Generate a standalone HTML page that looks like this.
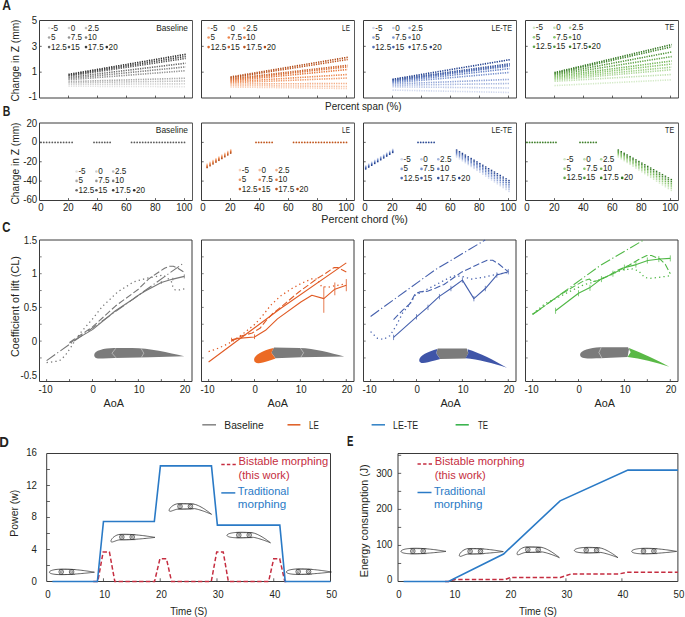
<!DOCTYPE html><html><head><meta charset="utf-8"><style>html,body{margin:0;padding:0;background:#fff;}svg{display:block;}text{font-family:"Liberation Sans", sans-serif;}</style></head><body>
<svg width="685" height="617" viewBox="0 0 685 617">
<rect width="685" height="617" fill="#fff"/>
<text x="2.20" y="9.70" font-size="14.6" text-anchor="start" fill="#231f20" font-weight="bold" textLength="8.7" lengthAdjust="spacingAndGlyphs" >A</text>
<text x="2.80" y="115.80" font-size="14.4" text-anchor="start" fill="#231f20" font-weight="bold" textLength="7.6" lengthAdjust="spacingAndGlyphs" >B</text>
<text x="2.20" y="232.20" font-size="14.4" text-anchor="start" fill="#231f20" font-weight="bold" textLength="8.2" lengthAdjust="spacingAndGlyphs" >C</text>
<text x="-0.70" y="446.50" font-size="14.6" text-anchor="start" fill="#231f20" font-weight="bold" textLength="9.6" lengthAdjust="spacingAndGlyphs" >D</text>
<text x="346.90" y="445.90" font-size="14.2" text-anchor="start" fill="#231f20" font-weight="bold" textLength="6.4" lengthAdjust="spacingAndGlyphs" >E</text>
<line x1="39.50" y1="20.50" x2="192.50" y2="20.50" stroke="#3a3a3a" stroke-width="1" />
<line x1="192.50" y1="20.50" x2="192.50" y2="98.00" stroke="#5a5a5a" stroke-width="1" />
<line x1="39.50" y1="20.50" x2="39.50" y2="98.00" stroke="#3a3a3a" stroke-width="1" />
<line x1="39.50" y1="98.00" x2="192.50" y2="98.00" stroke="#3a3a3a" stroke-width="1" />
<line x1="68.50" y1="98.00" x2="68.50" y2="95.60" stroke="#3a3a3a" stroke-width="0.8" />
<line x1="97.50" y1="98.00" x2="97.50" y2="95.60" stroke="#3a3a3a" stroke-width="0.8" />
<line x1="126.50" y1="98.00" x2="126.50" y2="95.60" stroke="#3a3a3a" stroke-width="0.8" />
<line x1="155.50" y1="98.00" x2="155.50" y2="95.60" stroke="#3a3a3a" stroke-width="0.8" />
<line x1="184.50" y1="98.00" x2="184.50" y2="95.60" stroke="#3a3a3a" stroke-width="0.8" />
<line x1="39.50" y1="46.33" x2="41.70" y2="46.33" stroke="#3a3a3a" stroke-width="0.8" />
<line x1="39.50" y1="72.17" x2="41.70" y2="72.17" stroke="#3a3a3a" stroke-width="0.8" />
<line x1="201.50" y1="20.50" x2="354.50" y2="20.50" stroke="#3a3a3a" stroke-width="1" />
<line x1="354.50" y1="20.50" x2="354.50" y2="98.00" stroke="#5a5a5a" stroke-width="1" />
<line x1="201.50" y1="20.50" x2="201.50" y2="98.00" stroke="#3a3a3a" stroke-width="1" />
<line x1="201.50" y1="98.00" x2="354.50" y2="98.00" stroke="#3a3a3a" stroke-width="1" />
<line x1="230.50" y1="98.00" x2="230.50" y2="95.60" stroke="#3a3a3a" stroke-width="0.8" />
<line x1="259.50" y1="98.00" x2="259.50" y2="95.60" stroke="#3a3a3a" stroke-width="0.8" />
<line x1="288.50" y1="98.00" x2="288.50" y2="95.60" stroke="#3a3a3a" stroke-width="0.8" />
<line x1="317.50" y1="98.00" x2="317.50" y2="95.60" stroke="#3a3a3a" stroke-width="0.8" />
<line x1="346.50" y1="98.00" x2="346.50" y2="95.60" stroke="#3a3a3a" stroke-width="0.8" />
<line x1="201.50" y1="46.33" x2="203.70" y2="46.33" stroke="#3a3a3a" stroke-width="0.8" />
<line x1="201.50" y1="72.17" x2="203.70" y2="72.17" stroke="#3a3a3a" stroke-width="0.8" />
<line x1="363.50" y1="20.50" x2="516.50" y2="20.50" stroke="#3a3a3a" stroke-width="1" />
<line x1="516.50" y1="20.50" x2="516.50" y2="98.00" stroke="#5a5a5a" stroke-width="1" />
<line x1="363.50" y1="20.50" x2="363.50" y2="98.00" stroke="#3a3a3a" stroke-width="1" />
<line x1="363.50" y1="98.00" x2="516.50" y2="98.00" stroke="#3a3a3a" stroke-width="1" />
<line x1="392.50" y1="98.00" x2="392.50" y2="95.60" stroke="#3a3a3a" stroke-width="0.8" />
<line x1="421.50" y1="98.00" x2="421.50" y2="95.60" stroke="#3a3a3a" stroke-width="0.8" />
<line x1="450.50" y1="98.00" x2="450.50" y2="95.60" stroke="#3a3a3a" stroke-width="0.8" />
<line x1="479.50" y1="98.00" x2="479.50" y2="95.60" stroke="#3a3a3a" stroke-width="0.8" />
<line x1="508.50" y1="98.00" x2="508.50" y2="95.60" stroke="#3a3a3a" stroke-width="0.8" />
<line x1="363.50" y1="46.33" x2="365.70" y2="46.33" stroke="#3a3a3a" stroke-width="0.8" />
<line x1="363.50" y1="72.17" x2="365.70" y2="72.17" stroke="#3a3a3a" stroke-width="0.8" />
<line x1="525.50" y1="20.50" x2="678.50" y2="20.50" stroke="#3a3a3a" stroke-width="1" />
<line x1="678.50" y1="20.50" x2="678.50" y2="98.00" stroke="#5a5a5a" stroke-width="1" />
<line x1="525.50" y1="20.50" x2="525.50" y2="98.00" stroke="#3a3a3a" stroke-width="1" />
<line x1="525.50" y1="98.00" x2="678.50" y2="98.00" stroke="#3a3a3a" stroke-width="1" />
<line x1="554.50" y1="98.00" x2="554.50" y2="95.60" stroke="#3a3a3a" stroke-width="0.8" />
<line x1="583.50" y1="98.00" x2="583.50" y2="95.60" stroke="#3a3a3a" stroke-width="0.8" />
<line x1="612.50" y1="98.00" x2="612.50" y2="95.60" stroke="#3a3a3a" stroke-width="0.8" />
<line x1="641.50" y1="98.00" x2="641.50" y2="95.60" stroke="#3a3a3a" stroke-width="0.8" />
<line x1="670.50" y1="98.00" x2="670.50" y2="95.60" stroke="#3a3a3a" stroke-width="0.8" />
<line x1="525.50" y1="46.33" x2="527.70" y2="46.33" stroke="#3a3a3a" stroke-width="0.8" />
<line x1="525.50" y1="72.17" x2="527.70" y2="72.17" stroke="#3a3a3a" stroke-width="0.8" />
<text x="188.00" y="31.00" font-size="8.6" text-anchor="end" fill="#231f20" textLength="31.8" lengthAdjust="spacingAndGlyphs" >Baseline</text>
<text x="349.90" y="31.00" font-size="8.6" text-anchor="end" fill="#231f20" textLength="7.8" lengthAdjust="spacingAndGlyphs" >LE</text>
<text x="512.00" y="30.60" font-size="8.6" text-anchor="end" fill="#231f20" textLength="20.5" lengthAdjust="spacingAndGlyphs" >LE-TE</text>
<text x="674.20" y="30.40" font-size="8.6" text-anchor="end" fill="#231f20" textLength="9.1" lengthAdjust="spacingAndGlyphs" >TE</text>
<text x="0.00" y="0.00" font-size="11.0" text-anchor="end" fill="#231f20" transform="translate(37.20,24.00) scale(0.88,1)">5</text>
<text x="0.00" y="0.00" font-size="11.0" text-anchor="end" fill="#231f20" transform="translate(37.20,49.53) scale(0.88,1)">3</text>
<text x="0.00" y="0.00" font-size="11.0" text-anchor="end" fill="#231f20" transform="translate(37.20,74.97) scale(0.88,1)">1</text>
<text x="0.00" y="0.00" font-size="11.0" text-anchor="end" fill="#231f20" transform="translate(37.20,99.60) scale(0.88,1)">-1</text>
<text x="0.00" y="0.00" font-size="10" text-anchor="middle" fill="#231f20" textLength="82" lengthAdjust="spacingAndGlyphs" transform="translate(18.6,60.5) rotate(-90)">Change in Z (mm)</text>
<text x="363.30" y="110.10" font-size="10" text-anchor="middle" fill="#231f20" textLength="76.5" lengthAdjust="spacingAndGlyphs" >Percent span (%)</text>
<circle cx="49.10" cy="28.00" r="1.3" fill="#e2e2e2"/>
<text x="0.00" y="0.00" font-size="8.6" text-anchor="start" fill="#231f20" transform="translate(50.90,30.50) scale(0.95,1)">-5</text>
<circle cx="69.00" cy="28.00" r="1.3" fill="#cecece"/>
<text x="0.00" y="0.00" font-size="8.6" text-anchor="start" fill="#231f20" transform="translate(70.80,30.50) scale(0.95,1)">0</text>
<circle cx="86.00" cy="28.00" r="1.3" fill="#bababa"/>
<text x="0.00" y="0.00" font-size="8.6" text-anchor="start" fill="#231f20" transform="translate(87.80,30.50) scale(0.95,1)">2.5</text>
<circle cx="49.10" cy="37.50" r="1.3" fill="#a6a6a6"/>
<text x="0.00" y="0.00" font-size="8.6" text-anchor="start" fill="#231f20" transform="translate(50.90,40.00) scale(0.95,1)">5</text>
<circle cx="69.00" cy="37.50" r="1.3" fill="#929292"/>
<text x="0.00" y="0.00" font-size="8.6" text-anchor="start" fill="#231f20" transform="translate(70.80,40.00) scale(0.95,1)">7.5</text>
<circle cx="86.00" cy="37.50" r="1.3" fill="#7e7e7e"/>
<text x="0.00" y="0.00" font-size="8.6" text-anchor="start" fill="#231f20" transform="translate(87.80,40.00) scale(0.95,1)">10</text>
<circle cx="49.10" cy="47.10" r="1.3" fill="#696969"/>
<text x="0.00" y="0.00" font-size="8.6" text-anchor="start" fill="#231f20" transform="translate(50.90,49.60) scale(0.95,1)">12.5</text>
<circle cx="69.00" cy="47.10" r="1.3" fill="#545454"/>
<text x="0.00" y="0.00" font-size="8.6" text-anchor="start" fill="#231f20" transform="translate(70.80,49.60) scale(0.95,1)">15</text>
<circle cx="86.00" cy="47.10" r="1.3" fill="#3f3f3f"/>
<text x="0.00" y="0.00" font-size="8.6" text-anchor="start" fill="#231f20" transform="translate(87.80,49.60) scale(0.95,1)">17.5</text>
<circle cx="106.80" cy="47.10" r="1.3" fill="#2a2a2a"/>
<text x="0.00" y="0.00" font-size="8.6" text-anchor="start" fill="#231f20" transform="translate(108.60,49.60) scale(0.95,1)">20</text>
<circle cx="208.60" cy="28.00" r="1.3" fill="#fad0b8"/>
<text x="0.00" y="0.00" font-size="8.6" text-anchor="start" fill="#231f20" transform="translate(210.40,30.50) scale(0.95,1)">-5</text>
<circle cx="228.80" cy="28.00" r="1.3" fill="#f6bd9c"/>
<text x="0.00" y="0.00" font-size="8.6" text-anchor="start" fill="#231f20" transform="translate(230.60,30.50) scale(0.95,1)">0</text>
<circle cx="244.40" cy="28.00" r="1.3" fill="#f3aa81"/>
<text x="0.00" y="0.00" font-size="8.6" text-anchor="start" fill="#231f20" transform="translate(246.20,30.50) scale(0.95,1)">2.5</text>
<circle cx="208.60" cy="37.50" r="1.3" fill="#ef9765"/>
<text x="0.00" y="0.00" font-size="8.6" text-anchor="start" fill="#231f20" transform="translate(210.40,40.00) scale(0.95,1)">5</text>
<circle cx="228.80" cy="37.50" r="1.3" fill="#ec844a"/>
<text x="0.00" y="0.00" font-size="8.6" text-anchor="start" fill="#231f20" transform="translate(230.60,40.00) scale(0.95,1)">7.5</text>
<circle cx="244.40" cy="37.50" r="1.3" fill="#e47438"/>
<text x="0.00" y="0.00" font-size="8.6" text-anchor="start" fill="#231f20" transform="translate(246.20,40.00) scale(0.95,1)">10</text>
<circle cx="208.60" cy="47.10" r="1.3" fill="#d7692f"/>
<text x="0.00" y="0.00" font-size="8.6" text-anchor="start" fill="#231f20" transform="translate(210.40,49.60) scale(0.95,1)">12.5</text>
<circle cx="228.80" cy="47.10" r="1.3" fill="#ca5e26"/>
<text x="0.00" y="0.00" font-size="8.6" text-anchor="start" fill="#231f20" transform="translate(230.60,49.60) scale(0.95,1)">15</text>
<circle cx="244.40" cy="47.10" r="1.3" fill="#bd531d"/>
<text x="0.00" y="0.00" font-size="8.6" text-anchor="start" fill="#231f20" transform="translate(246.20,49.60) scale(0.95,1)">17.5</text>
<circle cx="264.90" cy="47.10" r="1.3" fill="#b04814"/>
<text x="0.00" y="0.00" font-size="8.6" text-anchor="start" fill="#231f20" transform="translate(266.70,49.60) scale(0.95,1)">20</text>
<circle cx="373.50" cy="28.00" r="1.3" fill="#d0d8ee"/>
<text x="0.00" y="0.00" font-size="8.6" text-anchor="start" fill="#231f20" transform="translate(375.30,30.50) scale(0.95,1)">-5</text>
<circle cx="393.40" cy="28.00" r="1.3" fill="#b9c6e6"/>
<text x="0.00" y="0.00" font-size="8.6" text-anchor="start" fill="#231f20" transform="translate(395.20,30.50) scale(0.95,1)">0</text>
<circle cx="409.60" cy="28.00" r="1.3" fill="#a3b4dd"/>
<text x="0.00" y="0.00" font-size="8.6" text-anchor="start" fill="#231f20" transform="translate(411.40,30.50) scale(0.95,1)">2.5</text>
<circle cx="373.50" cy="37.50" r="1.3" fill="#8ca1d5"/>
<text x="0.00" y="0.00" font-size="8.6" text-anchor="start" fill="#231f20" transform="translate(375.30,40.00) scale(0.95,1)">5</text>
<circle cx="393.40" cy="37.50" r="1.3" fill="#758fcc"/>
<text x="0.00" y="0.00" font-size="8.6" text-anchor="start" fill="#231f20" transform="translate(395.20,40.00) scale(0.95,1)">7.5</text>
<circle cx="409.60" cy="37.50" r="1.3" fill="#627ec2"/>
<text x="0.00" y="0.00" font-size="8.6" text-anchor="start" fill="#231f20" transform="translate(411.40,40.00) scale(0.95,1)">10</text>
<circle cx="373.50" cy="47.10" r="1.3" fill="#526fb5"/>
<text x="0.00" y="0.00" font-size="8.6" text-anchor="start" fill="#231f20" transform="translate(375.30,49.60) scale(0.95,1)">12.5</text>
<circle cx="393.40" cy="47.10" r="1.3" fill="#425fa8"/>
<text x="0.00" y="0.00" font-size="8.6" text-anchor="start" fill="#231f20" transform="translate(395.20,49.60) scale(0.95,1)">15</text>
<circle cx="409.60" cy="47.10" r="1.3" fill="#32509b"/>
<text x="0.00" y="0.00" font-size="8.6" text-anchor="start" fill="#231f20" transform="translate(411.40,49.60) scale(0.95,1)">17.5</text>
<circle cx="430.80" cy="47.10" r="1.3" fill="#22408e"/>
<text x="0.00" y="0.00" font-size="8.6" text-anchor="start" fill="#231f20" transform="translate(432.60,49.60) scale(0.95,1)">20</text>
<circle cx="534.00" cy="27.70" r="1.3" fill="#d4eac8"/>
<text x="0.00" y="0.00" font-size="8.6" text-anchor="start" fill="#231f20" transform="translate(535.80,30.20) scale(0.95,1)">-5</text>
<circle cx="554.40" cy="27.70" r="1.3" fill="#c0e0b0"/>
<text x="0.00" y="0.00" font-size="8.6" text-anchor="start" fill="#231f20" transform="translate(556.20,30.20) scale(0.95,1)">0</text>
<circle cx="570.10" cy="27.70" r="1.3" fill="#add699"/>
<text x="0.00" y="0.00" font-size="8.6" text-anchor="start" fill="#231f20" transform="translate(571.90,30.20) scale(0.95,1)">2.5</text>
<circle cx="534.00" cy="37.20" r="1.3" fill="#99cd81"/>
<text x="0.00" y="0.00" font-size="8.6" text-anchor="start" fill="#231f20" transform="translate(535.80,39.70) scale(0.95,1)">5</text>
<circle cx="554.40" cy="37.20" r="1.3" fill="#86c36a"/>
<text x="0.00" y="0.00" font-size="8.6" text-anchor="start" fill="#231f20" transform="translate(556.20,39.70) scale(0.95,1)">7.5</text>
<circle cx="570.10" cy="37.20" r="1.3" fill="#73b657"/>
<text x="0.00" y="0.00" font-size="8.6" text-anchor="start" fill="#231f20" transform="translate(571.90,39.70) scale(0.95,1)">10</text>
<circle cx="534.00" cy="46.80" r="1.3" fill="#62a549"/>
<text x="0.00" y="0.00" font-size="8.6" text-anchor="start" fill="#231f20" transform="translate(535.80,49.30) scale(0.95,1)">12.5</text>
<circle cx="554.40" cy="46.80" r="1.3" fill="#51953a"/>
<text x="0.00" y="0.00" font-size="8.6" text-anchor="start" fill="#231f20" transform="translate(556.20,49.30) scale(0.95,1)">15</text>
<circle cx="570.10" cy="46.80" r="1.3" fill="#3f842c"/>
<text x="0.00" y="0.00" font-size="8.6" text-anchor="start" fill="#231f20" transform="translate(571.90,49.30) scale(0.95,1)">17.5</text>
<circle cx="589.80" cy="46.80" r="1.3" fill="#2e741e"/>
<text x="0.00" y="0.00" font-size="8.6" text-anchor="start" fill="#231f20" transform="translate(591.60,49.30) scale(0.95,1)">20</text>
<polyline points="68.50,74.40 185.70,54.30" fill="none" stroke="#2a2a2a" stroke-width="1.6" stroke-dasharray="1.25 1.15" />
<polyline points="68.50,75.20 185.70,56.40" fill="none" stroke="#3f3f3f" stroke-width="1.6" stroke-dasharray="1.25 1.15" />
<polyline points="68.50,76.00 185.70,58.40" fill="none" stroke="#545454" stroke-width="1.6" stroke-dasharray="1.25 1.15" />
<polyline points="68.50,77.40 185.70,63.20" fill="none" stroke="#696969" stroke-width="1.6" stroke-dasharray="1.25 1.15" />
<polyline points="68.50,78.60 185.70,66.90" fill="none" stroke="#7e7e7e" stroke-width="1.6" stroke-dasharray="1.25 1.15" />
<polyline points="68.50,79.80 185.70,70.70" fill="none" stroke="#929292" stroke-width="1.6" stroke-dasharray="1.25 1.15" />
<polyline points="68.50,81.60 185.70,78.20" fill="none" stroke="#a6a6a6" stroke-width="1.6" stroke-dasharray="1.25 1.15" />
<polyline points="68.50,82.80 185.70,81.00" fill="none" stroke="#bababa" stroke-width="1.6" stroke-dasharray="1.25 1.15" />
<polyline points="68.50,84.40 185.70,83.80" fill="none" stroke="#cecece" stroke-width="1.6" stroke-dasharray="1.25 1.15" />
<polyline points="68.50,86.20 185.70,86.70" fill="none" stroke="#e2e2e2" stroke-width="1.6" stroke-dasharray="1.25 1.15" />
<polyline points="230.50,77.00 347.70,57.30" fill="none" stroke="#b04814" stroke-width="1.6" stroke-dasharray="1.25 1.15" />
<polyline points="230.50,77.80 347.70,59.50" fill="none" stroke="#bd531d" stroke-width="1.6" stroke-dasharray="1.25 1.15" />
<polyline points="230.50,78.80 347.70,65.30" fill="none" stroke="#ca5e26" stroke-width="1.6" stroke-dasharray="1.25 1.15" />
<polyline points="230.50,79.80 347.70,66.80" fill="none" stroke="#d7692f" stroke-width="1.6" stroke-dasharray="1.25 1.15" />
<polyline points="230.50,80.80 347.70,69.50" fill="none" stroke="#e47438" stroke-width="1.6" stroke-dasharray="1.25 1.15" />
<polyline points="230.50,81.80 347.70,74.50" fill="none" stroke="#ec844a" stroke-width="1.6" stroke-dasharray="1.25 1.15" />
<polyline points="230.50,82.80 347.70,78.00" fill="none" stroke="#ef9765" stroke-width="1.6" stroke-dasharray="1.25 1.15" />
<polyline points="230.50,84.00 347.70,83.50" fill="none" stroke="#f3aa81" stroke-width="1.6" stroke-dasharray="1.25 1.15" />
<polyline points="230.50,85.50 347.70,86.50" fill="none" stroke="#f6bd9c" stroke-width="1.6" stroke-dasharray="1.25 1.15" />
<polyline points="230.50,87.00 347.70,88.50" fill="none" stroke="#fad0b8" stroke-width="1.6" stroke-dasharray="1.25 1.15" />
<polyline points="392.50,79.30 509.70,59.70" fill="none" stroke="#22408e" stroke-width="1.6" stroke-dasharray="1.25 1.15" />
<polyline points="392.50,79.90 509.70,63.80" fill="none" stroke="#32509b" stroke-width="1.6" stroke-dasharray="1.25 1.15" />
<polyline points="392.50,80.50 509.70,65.00" fill="none" stroke="#425fa8" stroke-width="1.6" stroke-dasharray="1.25 1.15" />
<polyline points="392.50,81.20 509.70,66.00" fill="none" stroke="#526fb5" stroke-width="1.6" stroke-dasharray="1.25 1.15" />
<polyline points="392.50,82.00 509.70,68.60" fill="none" stroke="#627ec2" stroke-width="1.6" stroke-dasharray="1.25 1.15" />
<polyline points="392.50,82.90 509.70,72.40" fill="none" stroke="#758fcc" stroke-width="1.6" stroke-dasharray="1.25 1.15" />
<polyline points="392.50,84.00 509.70,79.40" fill="none" stroke="#8ca1d5" stroke-width="1.6" stroke-dasharray="1.25 1.15" />
<polyline points="392.50,85.30 509.70,83.50" fill="none" stroke="#a3b4dd" stroke-width="1.6" stroke-dasharray="1.25 1.15" />
<polyline points="392.50,86.80 509.70,88.00" fill="none" stroke="#b9c6e6" stroke-width="1.6" stroke-dasharray="1.25 1.15" />
<polyline points="392.50,90.10 509.70,92.50" fill="none" stroke="#d0d8ee" stroke-width="1.6" stroke-dasharray="1.25 1.15" />
<polyline points="554.50,72.60 671.70,44.60" fill="none" stroke="#2e741e" stroke-width="1.6" stroke-dasharray="1.25 1.15" />
<polyline points="554.50,73.40 671.70,46.80" fill="none" stroke="#3f842c" stroke-width="1.6" stroke-dasharray="1.25 1.15" />
<polyline points="554.50,74.20 671.70,52.00" fill="none" stroke="#51953a" stroke-width="1.6" stroke-dasharray="1.25 1.15" />
<polyline points="554.50,75.20 671.70,56.60" fill="none" stroke="#62a549" stroke-width="1.6" stroke-dasharray="1.25 1.15" />
<polyline points="554.50,76.40 671.70,61.00" fill="none" stroke="#73b657" stroke-width="1.6" stroke-dasharray="1.25 1.15" />
<polyline points="554.50,77.60 671.70,64.00" fill="none" stroke="#86c36a" stroke-width="1.6" stroke-dasharray="1.25 1.15" />
<polyline points="554.50,78.80 671.70,67.10" fill="none" stroke="#99cd81" stroke-width="1.6" stroke-dasharray="1.25 1.15" />
<polyline points="554.50,80.00 671.70,69.70" fill="none" stroke="#add699" stroke-width="1.6" stroke-dasharray="1.25 1.15" />
<polyline points="554.50,81.30 671.70,74.50" fill="none" stroke="#c0e0b0" stroke-width="1.6" stroke-dasharray="1.25 1.15" />
<polyline points="554.50,85.60 671.70,79.80" fill="none" stroke="#d4eac8" stroke-width="1.6" stroke-dasharray="1.25 1.15" />
<line x1="39.50" y1="123.00" x2="192.50" y2="123.00" stroke="#3a3a3a" stroke-width="1" />
<line x1="192.50" y1="123.00" x2="192.50" y2="200.50" stroke="#5a5a5a" stroke-width="1" />
<line x1="39.50" y1="123.00" x2="39.50" y2="200.50" stroke="#3a3a3a" stroke-width="1" />
<line x1="39.50" y1="200.50" x2="192.50" y2="200.50" stroke="#3a3a3a" stroke-width="1" />
<line x1="68.50" y1="200.50" x2="68.50" y2="198.10" stroke="#3a3a3a" stroke-width="0.8" />
<line x1="97.50" y1="200.50" x2="97.50" y2="198.10" stroke="#3a3a3a" stroke-width="0.8" />
<line x1="126.50" y1="200.50" x2="126.50" y2="198.10" stroke="#3a3a3a" stroke-width="0.8" />
<line x1="155.50" y1="200.50" x2="155.50" y2="198.10" stroke="#3a3a3a" stroke-width="0.8" />
<line x1="184.50" y1="200.50" x2="184.50" y2="198.10" stroke="#3a3a3a" stroke-width="0.8" />
<line x1="39.50" y1="142.38" x2="41.70" y2="142.38" stroke="#3a3a3a" stroke-width="0.8" />
<line x1="39.50" y1="161.75" x2="41.70" y2="161.75" stroke="#3a3a3a" stroke-width="0.8" />
<line x1="39.50" y1="181.12" x2="41.70" y2="181.12" stroke="#3a3a3a" stroke-width="0.8" />
<text x="0.00" y="0.00" font-size="11.0" text-anchor="middle" fill="#231f20" transform="translate(41.00,211.00) scale(0.88,1)">0</text>
<text x="0.00" y="0.00" font-size="11.0" text-anchor="middle" fill="#231f20" transform="translate(68.30,211.00) scale(0.88,1)">20</text>
<text x="0.00" y="0.00" font-size="11.0" text-anchor="middle" fill="#231f20" transform="translate(97.30,211.00) scale(0.88,1)">40</text>
<text x="0.00" y="0.00" font-size="11.0" text-anchor="middle" fill="#231f20" transform="translate(126.30,211.00) scale(0.88,1)">60</text>
<text x="0.00" y="0.00" font-size="11.0" text-anchor="middle" fill="#231f20" transform="translate(155.30,211.00) scale(0.88,1)">80</text>
<text x="0.00" y="0.00" font-size="11.0" text-anchor="middle" fill="#231f20" transform="translate(184.30,211.00) scale(0.88,1)">100</text>
<line x1="201.50" y1="123.00" x2="354.50" y2="123.00" stroke="#3a3a3a" stroke-width="1" />
<line x1="354.50" y1="123.00" x2="354.50" y2="200.50" stroke="#5a5a5a" stroke-width="1" />
<line x1="201.50" y1="123.00" x2="201.50" y2="200.50" stroke="#3a3a3a" stroke-width="1" />
<line x1="201.50" y1="200.50" x2="354.50" y2="200.50" stroke="#3a3a3a" stroke-width="1" />
<line x1="230.50" y1="200.50" x2="230.50" y2="198.10" stroke="#3a3a3a" stroke-width="0.8" />
<line x1="259.50" y1="200.50" x2="259.50" y2="198.10" stroke="#3a3a3a" stroke-width="0.8" />
<line x1="288.50" y1="200.50" x2="288.50" y2="198.10" stroke="#3a3a3a" stroke-width="0.8" />
<line x1="317.50" y1="200.50" x2="317.50" y2="198.10" stroke="#3a3a3a" stroke-width="0.8" />
<line x1="346.50" y1="200.50" x2="346.50" y2="198.10" stroke="#3a3a3a" stroke-width="0.8" />
<line x1="201.50" y1="142.38" x2="203.70" y2="142.38" stroke="#3a3a3a" stroke-width="0.8" />
<line x1="201.50" y1="161.75" x2="203.70" y2="161.75" stroke="#3a3a3a" stroke-width="0.8" />
<line x1="201.50" y1="181.12" x2="203.70" y2="181.12" stroke="#3a3a3a" stroke-width="0.8" />
<text x="0.00" y="0.00" font-size="11.0" text-anchor="middle" fill="#231f20" transform="translate(203.00,211.00) scale(0.88,1)">0</text>
<text x="0.00" y="0.00" font-size="11.0" text-anchor="middle" fill="#231f20" transform="translate(230.30,211.00) scale(0.88,1)">20</text>
<text x="0.00" y="0.00" font-size="11.0" text-anchor="middle" fill="#231f20" transform="translate(259.30,211.00) scale(0.88,1)">40</text>
<text x="0.00" y="0.00" font-size="11.0" text-anchor="middle" fill="#231f20" transform="translate(288.30,211.00) scale(0.88,1)">60</text>
<text x="0.00" y="0.00" font-size="11.0" text-anchor="middle" fill="#231f20" transform="translate(317.30,211.00) scale(0.88,1)">80</text>
<text x="0.00" y="0.00" font-size="11.0" text-anchor="middle" fill="#231f20" transform="translate(346.30,211.00) scale(0.88,1)">100</text>
<line x1="363.50" y1="123.00" x2="516.50" y2="123.00" stroke="#3a3a3a" stroke-width="1" />
<line x1="516.50" y1="123.00" x2="516.50" y2="200.50" stroke="#5a5a5a" stroke-width="1" />
<line x1="363.50" y1="123.00" x2="363.50" y2="200.50" stroke="#3a3a3a" stroke-width="1" />
<line x1="363.50" y1="200.50" x2="516.50" y2="200.50" stroke="#3a3a3a" stroke-width="1" />
<line x1="392.50" y1="200.50" x2="392.50" y2="198.10" stroke="#3a3a3a" stroke-width="0.8" />
<line x1="421.50" y1="200.50" x2="421.50" y2="198.10" stroke="#3a3a3a" stroke-width="0.8" />
<line x1="450.50" y1="200.50" x2="450.50" y2="198.10" stroke="#3a3a3a" stroke-width="0.8" />
<line x1="479.50" y1="200.50" x2="479.50" y2="198.10" stroke="#3a3a3a" stroke-width="0.8" />
<line x1="508.50" y1="200.50" x2="508.50" y2="198.10" stroke="#3a3a3a" stroke-width="0.8" />
<line x1="363.50" y1="142.38" x2="365.70" y2="142.38" stroke="#3a3a3a" stroke-width="0.8" />
<line x1="363.50" y1="161.75" x2="365.70" y2="161.75" stroke="#3a3a3a" stroke-width="0.8" />
<line x1="363.50" y1="181.12" x2="365.70" y2="181.12" stroke="#3a3a3a" stroke-width="0.8" />
<text x="0.00" y="0.00" font-size="11.0" text-anchor="middle" fill="#231f20" transform="translate(365.00,211.00) scale(0.88,1)">0</text>
<text x="0.00" y="0.00" font-size="11.0" text-anchor="middle" fill="#231f20" transform="translate(392.30,211.00) scale(0.88,1)">20</text>
<text x="0.00" y="0.00" font-size="11.0" text-anchor="middle" fill="#231f20" transform="translate(421.30,211.00) scale(0.88,1)">40</text>
<text x="0.00" y="0.00" font-size="11.0" text-anchor="middle" fill="#231f20" transform="translate(450.30,211.00) scale(0.88,1)">60</text>
<text x="0.00" y="0.00" font-size="11.0" text-anchor="middle" fill="#231f20" transform="translate(479.30,211.00) scale(0.88,1)">80</text>
<text x="0.00" y="0.00" font-size="11.0" text-anchor="middle" fill="#231f20" transform="translate(508.30,211.00) scale(0.88,1)">100</text>
<line x1="525.50" y1="123.00" x2="678.50" y2="123.00" stroke="#3a3a3a" stroke-width="1" />
<line x1="678.50" y1="123.00" x2="678.50" y2="200.50" stroke="#5a5a5a" stroke-width="1" />
<line x1="525.50" y1="123.00" x2="525.50" y2="200.50" stroke="#3a3a3a" stroke-width="1" />
<line x1="525.50" y1="200.50" x2="678.50" y2="200.50" stroke="#3a3a3a" stroke-width="1" />
<line x1="554.50" y1="200.50" x2="554.50" y2="198.10" stroke="#3a3a3a" stroke-width="0.8" />
<line x1="583.50" y1="200.50" x2="583.50" y2="198.10" stroke="#3a3a3a" stroke-width="0.8" />
<line x1="612.50" y1="200.50" x2="612.50" y2="198.10" stroke="#3a3a3a" stroke-width="0.8" />
<line x1="641.50" y1="200.50" x2="641.50" y2="198.10" stroke="#3a3a3a" stroke-width="0.8" />
<line x1="670.50" y1="200.50" x2="670.50" y2="198.10" stroke="#3a3a3a" stroke-width="0.8" />
<line x1="525.50" y1="142.38" x2="527.70" y2="142.38" stroke="#3a3a3a" stroke-width="0.8" />
<line x1="525.50" y1="161.75" x2="527.70" y2="161.75" stroke="#3a3a3a" stroke-width="0.8" />
<line x1="525.50" y1="181.12" x2="527.70" y2="181.12" stroke="#3a3a3a" stroke-width="0.8" />
<text x="0.00" y="0.00" font-size="11.0" text-anchor="middle" fill="#231f20" transform="translate(527.00,211.00) scale(0.88,1)">0</text>
<text x="0.00" y="0.00" font-size="11.0" text-anchor="middle" fill="#231f20" transform="translate(554.30,211.00) scale(0.88,1)">20</text>
<text x="0.00" y="0.00" font-size="11.0" text-anchor="middle" fill="#231f20" transform="translate(583.30,211.00) scale(0.88,1)">40</text>
<text x="0.00" y="0.00" font-size="11.0" text-anchor="middle" fill="#231f20" transform="translate(612.30,211.00) scale(0.88,1)">60</text>
<text x="0.00" y="0.00" font-size="11.0" text-anchor="middle" fill="#231f20" transform="translate(641.30,211.00) scale(0.88,1)">80</text>
<text x="0.00" y="0.00" font-size="11.0" text-anchor="middle" fill="#231f20" transform="translate(670.30,211.00) scale(0.88,1)">100</text>
<text x="0.00" y="0.00" font-size="11.0" text-anchor="end" fill="#231f20" transform="translate(37.20,126.50) scale(0.88,1)">20</text>
<text x="0.00" y="0.00" font-size="11.0" text-anchor="end" fill="#231f20" transform="translate(37.20,145.18) scale(0.88,1)">0</text>
<text x="0.00" y="0.00" font-size="11.0" text-anchor="end" fill="#231f20" transform="translate(37.20,164.75) scale(0.88,1)">-20</text>
<text x="0.00" y="0.00" font-size="11.0" text-anchor="end" fill="#231f20" transform="translate(37.20,184.32) scale(0.88,1)">-40</text>
<text x="0.00" y="0.00" font-size="11.0" text-anchor="end" fill="#231f20" transform="translate(37.20,202.60) scale(0.88,1)">-60</text>
<text x="0.00" y="0.00" font-size="10" text-anchor="middle" fill="#231f20" textLength="82" lengthAdjust="spacingAndGlyphs" transform="translate(18.6,163.5) rotate(-90)">Change in Z (mm)</text>
<text x="364.60" y="222.60" font-size="10" text-anchor="middle" fill="#231f20" textLength="86.5" lengthAdjust="spacingAndGlyphs" >Percent chord (%)</text>
<text x="188.00" y="133.00" font-size="8.6" text-anchor="end" fill="#231f20" textLength="32.2" lengthAdjust="spacingAndGlyphs" >Baseline</text>
<text x="349.90" y="133.00" font-size="8.6" text-anchor="end" fill="#231f20" textLength="7.8" lengthAdjust="spacingAndGlyphs" >LE</text>
<text x="512.00" y="133.00" font-size="8.6" text-anchor="end" fill="#231f20" textLength="20.5" lengthAdjust="spacingAndGlyphs" >LE-TE</text>
<text x="674.20" y="133.00" font-size="8.6" text-anchor="end" fill="#231f20" textLength="9.1" lengthAdjust="spacingAndGlyphs" >TE</text>
<circle cx="76.60" cy="171.50" r="1.3" fill="#e2e2e2"/>
<text x="0.00" y="0.00" font-size="8.6" text-anchor="start" fill="#231f20" transform="translate(78.40,174.00) scale(0.95,1)">-5</text>
<circle cx="96.40" cy="171.50" r="1.3" fill="#cecece"/>
<text x="0.00" y="0.00" font-size="8.6" text-anchor="start" fill="#231f20" transform="translate(98.20,174.00) scale(0.95,1)">0</text>
<circle cx="113.20" cy="171.50" r="1.3" fill="#bababa"/>
<text x="0.00" y="0.00" font-size="8.6" text-anchor="start" fill="#231f20" transform="translate(115.00,174.00) scale(0.95,1)">2.5</text>
<circle cx="76.60" cy="180.90" r="1.3" fill="#a6a6a6"/>
<text x="0.00" y="0.00" font-size="8.6" text-anchor="start" fill="#231f20" transform="translate(78.40,183.40) scale(0.95,1)">5</text>
<circle cx="96.40" cy="180.90" r="1.3" fill="#929292"/>
<text x="0.00" y="0.00" font-size="8.6" text-anchor="start" fill="#231f20" transform="translate(98.20,183.40) scale(0.95,1)">7.5</text>
<circle cx="113.20" cy="180.90" r="1.3" fill="#7e7e7e"/>
<text x="0.00" y="0.00" font-size="8.6" text-anchor="start" fill="#231f20" transform="translate(115.00,183.40) scale(0.95,1)">10</text>
<circle cx="76.60" cy="190.20" r="1.3" fill="#696969"/>
<text x="0.00" y="0.00" font-size="8.6" text-anchor="start" fill="#231f20" transform="translate(78.40,192.70) scale(0.95,1)">12.5</text>
<circle cx="96.40" cy="190.20" r="1.3" fill="#545454"/>
<text x="0.00" y="0.00" font-size="8.6" text-anchor="start" fill="#231f20" transform="translate(98.20,192.70) scale(0.95,1)">15</text>
<circle cx="113.20" cy="190.20" r="1.3" fill="#3f3f3f"/>
<text x="0.00" y="0.00" font-size="8.6" text-anchor="start" fill="#231f20" transform="translate(115.00,192.70) scale(0.95,1)">17.5</text>
<circle cx="134.20" cy="190.20" r="1.3" fill="#2a2a2a"/>
<text x="0.00" y="0.00" font-size="8.6" text-anchor="start" fill="#231f20" transform="translate(136.00,192.70) scale(0.95,1)">20</text>
<circle cx="239.90" cy="170.10" r="1.3" fill="#fad0b8"/>
<text x="0.00" y="0.00" font-size="8.6" text-anchor="start" fill="#231f20" transform="translate(241.70,172.60) scale(0.95,1)">-5</text>
<circle cx="259.70" cy="170.10" r="1.3" fill="#f6bd9c"/>
<text x="0.00" y="0.00" font-size="8.6" text-anchor="start" fill="#231f20" transform="translate(261.50,172.60) scale(0.95,1)">0</text>
<circle cx="276.50" cy="170.10" r="1.3" fill="#f3aa81"/>
<text x="0.00" y="0.00" font-size="8.6" text-anchor="start" fill="#231f20" transform="translate(278.30,172.60) scale(0.95,1)">2.5</text>
<circle cx="239.90" cy="179.70" r="1.3" fill="#ef9765"/>
<text x="0.00" y="0.00" font-size="8.6" text-anchor="start" fill="#231f20" transform="translate(241.70,182.20) scale(0.95,1)">5</text>
<circle cx="259.70" cy="179.70" r="1.3" fill="#ec844a"/>
<text x="0.00" y="0.00" font-size="8.6" text-anchor="start" fill="#231f20" transform="translate(261.50,182.20) scale(0.95,1)">7.5</text>
<circle cx="276.50" cy="179.70" r="1.3" fill="#e47438"/>
<text x="0.00" y="0.00" font-size="8.6" text-anchor="start" fill="#231f20" transform="translate(278.30,182.20) scale(0.95,1)">10</text>
<circle cx="239.90" cy="189.10" r="1.3" fill="#d7692f"/>
<text x="0.00" y="0.00" font-size="8.6" text-anchor="start" fill="#231f20" transform="translate(241.70,191.60) scale(0.95,1)">12.5</text>
<circle cx="259.70" cy="189.10" r="1.3" fill="#ca5e26"/>
<text x="0.00" y="0.00" font-size="8.6" text-anchor="start" fill="#231f20" transform="translate(261.50,191.60) scale(0.95,1)">15</text>
<circle cx="276.50" cy="189.10" r="1.3" fill="#bd531d"/>
<text x="0.00" y="0.00" font-size="8.6" text-anchor="start" fill="#231f20" transform="translate(278.30,191.60) scale(0.95,1)">17.5</text>
<circle cx="297.50" cy="189.10" r="1.3" fill="#b04814"/>
<text x="0.00" y="0.00" font-size="8.6" text-anchor="start" fill="#231f20" transform="translate(299.30,191.60) scale(0.95,1)">20</text>
<circle cx="401.70" cy="159.30" r="1.3" fill="#d0d8ee"/>
<text x="0.00" y="0.00" font-size="8.6" text-anchor="start" fill="#231f20" transform="translate(403.50,161.80) scale(0.95,1)">-5</text>
<circle cx="421.50" cy="159.30" r="1.3" fill="#b9c6e6"/>
<text x="0.00" y="0.00" font-size="8.6" text-anchor="start" fill="#231f20" transform="translate(423.30,161.80) scale(0.95,1)">0</text>
<circle cx="438.30" cy="159.30" r="1.3" fill="#a3b4dd"/>
<text x="0.00" y="0.00" font-size="8.6" text-anchor="start" fill="#231f20" transform="translate(440.10,161.80) scale(0.95,1)">2.5</text>
<circle cx="401.70" cy="168.90" r="1.3" fill="#8ca1d5"/>
<text x="0.00" y="0.00" font-size="8.6" text-anchor="start" fill="#231f20" transform="translate(403.50,171.40) scale(0.95,1)">5</text>
<circle cx="421.50" cy="168.90" r="1.3" fill="#758fcc"/>
<text x="0.00" y="0.00" font-size="8.6" text-anchor="start" fill="#231f20" transform="translate(423.30,171.40) scale(0.95,1)">7.5</text>
<circle cx="438.30" cy="168.90" r="1.3" fill="#627ec2"/>
<text x="0.00" y="0.00" font-size="8.6" text-anchor="start" fill="#231f20" transform="translate(440.10,171.40) scale(0.95,1)">10</text>
<circle cx="401.70" cy="178.10" r="1.3" fill="#526fb5"/>
<text x="0.00" y="0.00" font-size="8.6" text-anchor="start" fill="#231f20" transform="translate(403.50,180.60) scale(0.95,1)">12.5</text>
<circle cx="421.50" cy="178.10" r="1.3" fill="#425fa8"/>
<text x="0.00" y="0.00" font-size="8.6" text-anchor="start" fill="#231f20" transform="translate(423.30,180.60) scale(0.95,1)">15</text>
<circle cx="438.30" cy="178.10" r="1.3" fill="#32509b"/>
<text x="0.00" y="0.00" font-size="8.6" text-anchor="start" fill="#231f20" transform="translate(440.10,180.60) scale(0.95,1)">17.5</text>
<circle cx="459.30" cy="178.10" r="1.3" fill="#22408e"/>
<text x="0.00" y="0.00" font-size="8.6" text-anchor="start" fill="#231f20" transform="translate(461.10,180.60) scale(0.95,1)">20</text>
<circle cx="564.60" cy="159.30" r="1.3" fill="#d4eac8"/>
<text x="0.00" y="0.00" font-size="8.6" text-anchor="start" fill="#231f20" transform="translate(566.40,161.80) scale(0.95,1)">-5</text>
<circle cx="584.40" cy="159.30" r="1.3" fill="#c0e0b0"/>
<text x="0.00" y="0.00" font-size="8.6" text-anchor="start" fill="#231f20" transform="translate(586.20,161.80) scale(0.95,1)">0</text>
<circle cx="601.20" cy="159.30" r="1.3" fill="#add699"/>
<text x="0.00" y="0.00" font-size="8.6" text-anchor="start" fill="#231f20" transform="translate(603.00,161.80) scale(0.95,1)">2.5</text>
<circle cx="564.60" cy="168.70" r="1.3" fill="#99cd81"/>
<text x="0.00" y="0.00" font-size="8.6" text-anchor="start" fill="#231f20" transform="translate(566.40,171.20) scale(0.95,1)">5</text>
<circle cx="584.40" cy="168.70" r="1.3" fill="#86c36a"/>
<text x="0.00" y="0.00" font-size="8.6" text-anchor="start" fill="#231f20" transform="translate(586.20,171.20) scale(0.95,1)">7.5</text>
<circle cx="601.20" cy="168.70" r="1.3" fill="#73b657"/>
<text x="0.00" y="0.00" font-size="8.6" text-anchor="start" fill="#231f20" transform="translate(603.00,171.20) scale(0.95,1)">10</text>
<circle cx="564.60" cy="177.90" r="1.3" fill="#62a549"/>
<text x="0.00" y="0.00" font-size="8.6" text-anchor="start" fill="#231f20" transform="translate(566.40,180.40) scale(0.95,1)">12.5</text>
<circle cx="584.40" cy="177.90" r="1.3" fill="#51953a"/>
<text x="0.00" y="0.00" font-size="8.6" text-anchor="start" fill="#231f20" transform="translate(586.20,180.40) scale(0.95,1)">15</text>
<circle cx="601.20" cy="177.90" r="1.3" fill="#3f842c"/>
<text x="0.00" y="0.00" font-size="8.6" text-anchor="start" fill="#231f20" transform="translate(603.00,180.40) scale(0.95,1)">17.5</text>
<circle cx="622.20" cy="177.90" r="1.3" fill="#2e741e"/>
<text x="0.00" y="0.00" font-size="8.6" text-anchor="start" fill="#231f20" transform="translate(624.00,180.40) scale(0.95,1)">20</text>
<circle cx="40.95" cy="142.38" r="0.9" fill="#5a5a5a"/>
<circle cx="43.78" cy="142.38" r="0.9" fill="#5a5a5a"/>
<circle cx="46.62" cy="142.38" r="0.9" fill="#5a5a5a"/>
<circle cx="49.45" cy="142.38" r="0.9" fill="#5a5a5a"/>
<circle cx="52.29" cy="142.38" r="0.9" fill="#5a5a5a"/>
<circle cx="55.12" cy="142.38" r="0.9" fill="#5a5a5a"/>
<circle cx="57.95" cy="142.38" r="0.9" fill="#5a5a5a"/>
<circle cx="60.79" cy="142.38" r="0.9" fill="#5a5a5a"/>
<circle cx="63.62" cy="142.38" r="0.9" fill="#5a5a5a"/>
<circle cx="66.46" cy="142.38" r="0.9" fill="#5a5a5a"/>
<circle cx="69.29" cy="142.38" r="0.9" fill="#5a5a5a"/>
<circle cx="72.12" cy="142.38" r="0.9" fill="#5a5a5a"/>
<circle cx="94.02" cy="142.38" r="0.9" fill="#5a5a5a"/>
<circle cx="96.70" cy="142.38" r="0.9" fill="#5a5a5a"/>
<circle cx="99.39" cy="142.38" r="0.9" fill="#5a5a5a"/>
<circle cx="102.07" cy="142.38" r="0.9" fill="#5a5a5a"/>
<circle cx="104.75" cy="142.38" r="0.9" fill="#5a5a5a"/>
<circle cx="107.43" cy="142.38" r="0.9" fill="#5a5a5a"/>
<circle cx="110.11" cy="142.38" r="0.9" fill="#5a5a5a"/>
<circle cx="131.57" cy="142.38" r="0.9" fill="#5a5a5a"/>
<circle cx="134.36" cy="142.38" r="0.9" fill="#5a5a5a"/>
<circle cx="137.15" cy="142.38" r="0.9" fill="#5a5a5a"/>
<circle cx="139.93" cy="142.38" r="0.9" fill="#5a5a5a"/>
<circle cx="142.72" cy="142.38" r="0.9" fill="#5a5a5a"/>
<circle cx="145.50" cy="142.38" r="0.9" fill="#5a5a5a"/>
<circle cx="148.29" cy="142.38" r="0.9" fill="#5a5a5a"/>
<circle cx="151.07" cy="142.38" r="0.9" fill="#5a5a5a"/>
<circle cx="153.86" cy="142.38" r="0.9" fill="#5a5a5a"/>
<circle cx="156.64" cy="142.38" r="0.9" fill="#5a5a5a"/>
<circle cx="159.43" cy="142.38" r="0.9" fill="#5a5a5a"/>
<circle cx="162.22" cy="142.38" r="0.9" fill="#5a5a5a"/>
<circle cx="165.00" cy="142.38" r="0.9" fill="#5a5a5a"/>
<circle cx="167.79" cy="142.38" r="0.9" fill="#5a5a5a"/>
<circle cx="170.57" cy="142.38" r="0.9" fill="#5a5a5a"/>
<circle cx="173.36" cy="142.38" r="0.9" fill="#5a5a5a"/>
<circle cx="176.14" cy="142.38" r="0.9" fill="#5a5a5a"/>
<circle cx="178.93" cy="142.38" r="0.9" fill="#5a5a5a"/>
<circle cx="181.71" cy="142.38" r="0.9" fill="#5a5a5a"/>
<circle cx="184.50" cy="142.38" r="0.9" fill="#5a5a5a"/>
<rect x="206.35" y="163.35" width="1.5" height="1.3" fill="#fad0b8"/>
<rect x="206.35" y="164.25" width="1.5" height="1.3" fill="#f2a57a"/>
<rect x="206.35" y="165.15" width="1.5" height="1.3" fill="#ea7a3c"/>
<rect x="206.35" y="166.05" width="1.5" height="1.3" fill="#cd6128"/>
<rect x="206.35" y="166.95" width="1.5" height="1.3" fill="#b04814"/>
<rect x="209.30" y="161.55" width="1.5" height="1.3" fill="#fad0b8"/>
<rect x="209.30" y="162.45" width="1.5" height="1.3" fill="#f2a57a"/>
<rect x="209.30" y="163.35" width="1.5" height="1.3" fill="#ea7a3c"/>
<rect x="209.30" y="164.25" width="1.5" height="1.3" fill="#cd6128"/>
<rect x="209.30" y="165.15" width="1.5" height="1.3" fill="#b04814"/>
<rect x="212.25" y="159.75" width="1.5" height="1.3" fill="#fad0b8"/>
<rect x="212.25" y="160.65" width="1.5" height="1.3" fill="#f2a57a"/>
<rect x="212.25" y="161.55" width="1.5" height="1.3" fill="#ea7a3c"/>
<rect x="212.25" y="162.45" width="1.5" height="1.3" fill="#cd6128"/>
<rect x="212.25" y="163.35" width="1.5" height="1.3" fill="#b04814"/>
<rect x="215.20" y="157.95" width="1.5" height="1.3" fill="#fad0b8"/>
<rect x="215.20" y="158.85" width="1.5" height="1.3" fill="#f2a57a"/>
<rect x="215.20" y="159.75" width="1.5" height="1.3" fill="#ea7a3c"/>
<rect x="215.20" y="160.65" width="1.5" height="1.3" fill="#cd6128"/>
<rect x="215.20" y="161.55" width="1.5" height="1.3" fill="#b04814"/>
<rect x="218.15" y="156.15" width="1.5" height="1.3" fill="#fad0b8"/>
<rect x="218.15" y="157.05" width="1.5" height="1.3" fill="#f2a57a"/>
<rect x="218.15" y="157.95" width="1.5" height="1.3" fill="#ea7a3c"/>
<rect x="218.15" y="158.85" width="1.5" height="1.3" fill="#cd6128"/>
<rect x="218.15" y="159.75" width="1.5" height="1.3" fill="#b04814"/>
<rect x="221.10" y="154.35" width="1.5" height="1.3" fill="#fad0b8"/>
<rect x="221.10" y="155.25" width="1.5" height="1.3" fill="#f2a57a"/>
<rect x="221.10" y="156.15" width="1.5" height="1.3" fill="#ea7a3c"/>
<rect x="221.10" y="157.05" width="1.5" height="1.3" fill="#cd6128"/>
<rect x="221.10" y="157.95" width="1.5" height="1.3" fill="#b04814"/>
<rect x="224.05" y="152.55" width="1.5" height="1.3" fill="#fad0b8"/>
<rect x="224.05" y="153.45" width="1.5" height="1.3" fill="#f2a57a"/>
<rect x="224.05" y="154.35" width="1.5" height="1.3" fill="#ea7a3c"/>
<rect x="224.05" y="155.25" width="1.5" height="1.3" fill="#cd6128"/>
<rect x="224.05" y="156.15" width="1.5" height="1.3" fill="#b04814"/>
<rect x="227.00" y="150.75" width="1.5" height="1.3" fill="#fad0b8"/>
<rect x="227.00" y="151.65" width="1.5" height="1.3" fill="#f2a57a"/>
<rect x="227.00" y="152.55" width="1.5" height="1.3" fill="#ea7a3c"/>
<rect x="227.00" y="153.45" width="1.5" height="1.3" fill="#cd6128"/>
<rect x="227.00" y="154.35" width="1.5" height="1.3" fill="#b04814"/>
<rect x="229.95" y="148.95" width="1.5" height="1.3" fill="#fad0b8"/>
<rect x="229.95" y="149.85" width="1.5" height="1.3" fill="#f2a57a"/>
<rect x="229.95" y="150.75" width="1.5" height="1.3" fill="#ea7a3c"/>
<rect x="229.95" y="151.65" width="1.5" height="1.3" fill="#cd6128"/>
<rect x="229.95" y="152.55" width="1.5" height="1.3" fill="#b04814"/>
<circle cx="256.02" cy="142.38" r="0.9" fill="#c0541a"/>
<circle cx="258.70" cy="142.38" r="0.9" fill="#c0541a"/>
<circle cx="261.38" cy="142.38" r="0.9" fill="#c0541a"/>
<circle cx="264.07" cy="142.38" r="0.9" fill="#c0541a"/>
<circle cx="266.75" cy="142.38" r="0.9" fill="#c0541a"/>
<circle cx="269.43" cy="142.38" r="0.9" fill="#c0541a"/>
<circle cx="272.12" cy="142.38" r="0.9" fill="#c0541a"/>
<circle cx="293.57" cy="142.38" r="0.9" fill="#c0541a"/>
<circle cx="296.36" cy="142.38" r="0.9" fill="#c0541a"/>
<circle cx="299.15" cy="142.38" r="0.9" fill="#c0541a"/>
<circle cx="301.93" cy="142.38" r="0.9" fill="#c0541a"/>
<circle cx="304.72" cy="142.38" r="0.9" fill="#c0541a"/>
<circle cx="307.50" cy="142.38" r="0.9" fill="#c0541a"/>
<circle cx="310.29" cy="142.38" r="0.9" fill="#c0541a"/>
<circle cx="313.07" cy="142.38" r="0.9" fill="#c0541a"/>
<circle cx="315.86" cy="142.38" r="0.9" fill="#c0541a"/>
<circle cx="318.64" cy="142.38" r="0.9" fill="#c0541a"/>
<circle cx="321.43" cy="142.38" r="0.9" fill="#c0541a"/>
<circle cx="324.22" cy="142.38" r="0.9" fill="#c0541a"/>
<circle cx="327.00" cy="142.38" r="0.9" fill="#c0541a"/>
<circle cx="329.79" cy="142.38" r="0.9" fill="#c0541a"/>
<circle cx="332.57" cy="142.38" r="0.9" fill="#c0541a"/>
<circle cx="335.36" cy="142.38" r="0.9" fill="#c0541a"/>
<circle cx="338.14" cy="142.38" r="0.9" fill="#c0541a"/>
<circle cx="340.93" cy="142.38" r="0.9" fill="#c0541a"/>
<circle cx="343.71" cy="142.38" r="0.9" fill="#c0541a"/>
<circle cx="346.50" cy="142.38" r="0.9" fill="#c0541a"/>
<rect x="364.95" y="165.15" width="1.5" height="1.3" fill="#d0d8ee"/>
<rect x="364.95" y="165.95" width="1.5" height="1.3" fill="#9dafdb"/>
<rect x="364.95" y="166.75" width="1.5" height="1.3" fill="#6a86c8"/>
<rect x="364.95" y="167.55" width="1.5" height="1.3" fill="#4663ab"/>
<rect x="364.95" y="168.35" width="1.5" height="1.3" fill="#22408e"/>
<rect x="367.95" y="163.32" width="1.5" height="1.3" fill="#d0d8ee"/>
<rect x="367.95" y="164.12" width="1.5" height="1.3" fill="#9dafdb"/>
<rect x="367.95" y="164.92" width="1.5" height="1.3" fill="#6a86c8"/>
<rect x="367.95" y="165.72" width="1.5" height="1.3" fill="#4663ab"/>
<rect x="367.95" y="166.52" width="1.5" height="1.3" fill="#22408e"/>
<rect x="370.95" y="161.48" width="1.5" height="1.3" fill="#d0d8ee"/>
<rect x="370.95" y="162.28" width="1.5" height="1.3" fill="#9dafdb"/>
<rect x="370.95" y="163.08" width="1.5" height="1.3" fill="#6a86c8"/>
<rect x="370.95" y="163.88" width="1.5" height="1.3" fill="#4663ab"/>
<rect x="370.95" y="164.68" width="1.5" height="1.3" fill="#22408e"/>
<rect x="373.95" y="159.65" width="1.5" height="1.3" fill="#d0d8ee"/>
<rect x="373.95" y="160.45" width="1.5" height="1.3" fill="#9dafdb"/>
<rect x="373.95" y="161.25" width="1.5" height="1.3" fill="#6a86c8"/>
<rect x="373.95" y="162.05" width="1.5" height="1.3" fill="#4663ab"/>
<rect x="373.95" y="162.85" width="1.5" height="1.3" fill="#22408e"/>
<rect x="376.95" y="157.82" width="1.5" height="1.3" fill="#d0d8ee"/>
<rect x="376.95" y="158.62" width="1.5" height="1.3" fill="#9dafdb"/>
<rect x="376.95" y="159.42" width="1.5" height="1.3" fill="#6a86c8"/>
<rect x="376.95" y="160.22" width="1.5" height="1.3" fill="#4663ab"/>
<rect x="376.95" y="161.02" width="1.5" height="1.3" fill="#22408e"/>
<rect x="379.95" y="155.98" width="1.5" height="1.3" fill="#d0d8ee"/>
<rect x="379.95" y="156.78" width="1.5" height="1.3" fill="#9dafdb"/>
<rect x="379.95" y="157.58" width="1.5" height="1.3" fill="#6a86c8"/>
<rect x="379.95" y="158.38" width="1.5" height="1.3" fill="#4663ab"/>
<rect x="379.95" y="159.18" width="1.5" height="1.3" fill="#22408e"/>
<rect x="382.95" y="154.15" width="1.5" height="1.3" fill="#d0d8ee"/>
<rect x="382.95" y="154.95" width="1.5" height="1.3" fill="#9dafdb"/>
<rect x="382.95" y="155.75" width="1.5" height="1.3" fill="#6a86c8"/>
<rect x="382.95" y="156.55" width="1.5" height="1.3" fill="#4663ab"/>
<rect x="382.95" y="157.35" width="1.5" height="1.3" fill="#22408e"/>
<rect x="385.95" y="152.32" width="1.5" height="1.3" fill="#d0d8ee"/>
<rect x="385.95" y="153.12" width="1.5" height="1.3" fill="#9dafdb"/>
<rect x="385.95" y="153.92" width="1.5" height="1.3" fill="#6a86c8"/>
<rect x="385.95" y="154.72" width="1.5" height="1.3" fill="#4663ab"/>
<rect x="385.95" y="155.52" width="1.5" height="1.3" fill="#22408e"/>
<rect x="388.95" y="150.48" width="1.5" height="1.3" fill="#d0d8ee"/>
<rect x="388.95" y="151.28" width="1.5" height="1.3" fill="#9dafdb"/>
<rect x="388.95" y="152.08" width="1.5" height="1.3" fill="#6a86c8"/>
<rect x="388.95" y="152.88" width="1.5" height="1.3" fill="#4663ab"/>
<rect x="388.95" y="153.68" width="1.5" height="1.3" fill="#22408e"/>
<rect x="391.95" y="148.65" width="1.5" height="1.3" fill="#d0d8ee"/>
<rect x="391.95" y="149.45" width="1.5" height="1.3" fill="#9dafdb"/>
<rect x="391.95" y="150.25" width="1.5" height="1.3" fill="#6a86c8"/>
<rect x="391.95" y="151.05" width="1.5" height="1.3" fill="#4663ab"/>
<rect x="391.95" y="151.85" width="1.5" height="1.3" fill="#22408e"/>
<circle cx="418.02" cy="142.38" r="0.9" fill="#2b4a94"/>
<circle cx="420.70" cy="142.38" r="0.9" fill="#2b4a94"/>
<circle cx="423.38" cy="142.38" r="0.9" fill="#2b4a94"/>
<circle cx="426.07" cy="142.38" r="0.9" fill="#2b4a94"/>
<circle cx="428.75" cy="142.38" r="0.9" fill="#2b4a94"/>
<circle cx="431.43" cy="142.38" r="0.9" fill="#2b4a94"/>
<circle cx="434.12" cy="142.38" r="0.9" fill="#2b4a94"/>
<rect x="455.85" y="149.35" width="1.5" height="1.3" fill="#22408e"/>
<rect x="455.85" y="150.52" width="1.5" height="1.3" fill="#3a57a1"/>
<rect x="455.85" y="151.68" width="1.5" height="1.3" fill="#526fb5"/>
<rect x="455.85" y="152.85" width="1.5" height="1.3" fill="#6a86c8"/>
<rect x="455.85" y="154.02" width="1.5" height="1.3" fill="#8ca1d5"/>
<rect x="455.85" y="155.18" width="1.5" height="1.3" fill="#aebde1"/>
<rect x="455.85" y="156.35" width="1.5" height="1.3" fill="#d0d8ee"/>
<rect x="458.76" y="151.04" width="1.5" height="1.3" fill="#22408e"/>
<rect x="458.76" y="152.25" width="1.5" height="1.3" fill="#3a57a1"/>
<rect x="458.76" y="153.45" width="1.5" height="1.3" fill="#526fb5"/>
<rect x="458.76" y="154.66" width="1.5" height="1.3" fill="#6a86c8"/>
<rect x="458.76" y="155.86" width="1.5" height="1.3" fill="#8ca1d5"/>
<rect x="458.76" y="157.06" width="1.5" height="1.3" fill="#aebde1"/>
<rect x="458.76" y="158.27" width="1.5" height="1.3" fill="#d0d8ee"/>
<rect x="461.67" y="152.74" width="1.5" height="1.3" fill="#22408e"/>
<rect x="461.67" y="153.98" width="1.5" height="1.3" fill="#3a57a1"/>
<rect x="461.67" y="155.22" width="1.5" height="1.3" fill="#526fb5"/>
<rect x="461.67" y="156.46" width="1.5" height="1.3" fill="#6a86c8"/>
<rect x="461.67" y="157.70" width="1.5" height="1.3" fill="#8ca1d5"/>
<rect x="461.67" y="158.94" width="1.5" height="1.3" fill="#aebde1"/>
<rect x="461.67" y="160.18" width="1.5" height="1.3" fill="#d0d8ee"/>
<rect x="464.58" y="154.43" width="1.5" height="1.3" fill="#22408e"/>
<rect x="464.58" y="155.71" width="1.5" height="1.3" fill="#3a57a1"/>
<rect x="464.58" y="156.99" width="1.5" height="1.3" fill="#526fb5"/>
<rect x="464.58" y="158.27" width="1.5" height="1.3" fill="#6a86c8"/>
<rect x="464.58" y="159.54" width="1.5" height="1.3" fill="#8ca1d5"/>
<rect x="464.58" y="160.82" width="1.5" height="1.3" fill="#aebde1"/>
<rect x="464.58" y="162.10" width="1.5" height="1.3" fill="#d0d8ee"/>
<rect x="467.49" y="156.13" width="1.5" height="1.3" fill="#22408e"/>
<rect x="467.49" y="157.44" width="1.5" height="1.3" fill="#3a57a1"/>
<rect x="467.49" y="158.76" width="1.5" height="1.3" fill="#526fb5"/>
<rect x="467.49" y="160.07" width="1.5" height="1.3" fill="#6a86c8"/>
<rect x="467.49" y="161.39" width="1.5" height="1.3" fill="#8ca1d5"/>
<rect x="467.49" y="162.70" width="1.5" height="1.3" fill="#aebde1"/>
<rect x="467.49" y="164.02" width="1.5" height="1.3" fill="#d0d8ee"/>
<rect x="470.41" y="157.82" width="1.5" height="1.3" fill="#22408e"/>
<rect x="470.41" y="159.17" width="1.5" height="1.3" fill="#3a57a1"/>
<rect x="470.41" y="160.53" width="1.5" height="1.3" fill="#526fb5"/>
<rect x="470.41" y="161.88" width="1.5" height="1.3" fill="#6a86c8"/>
<rect x="470.41" y="163.23" width="1.5" height="1.3" fill="#8ca1d5"/>
<rect x="470.41" y="164.58" width="1.5" height="1.3" fill="#aebde1"/>
<rect x="470.41" y="165.93" width="1.5" height="1.3" fill="#d0d8ee"/>
<rect x="473.32" y="159.52" width="1.5" height="1.3" fill="#22408e"/>
<rect x="473.32" y="160.91" width="1.5" height="1.3" fill="#3a57a1"/>
<rect x="473.32" y="162.29" width="1.5" height="1.3" fill="#526fb5"/>
<rect x="473.32" y="163.68" width="1.5" height="1.3" fill="#6a86c8"/>
<rect x="473.32" y="165.07" width="1.5" height="1.3" fill="#8ca1d5"/>
<rect x="473.32" y="166.46" width="1.5" height="1.3" fill="#aebde1"/>
<rect x="473.32" y="167.85" width="1.5" height="1.3" fill="#d0d8ee"/>
<rect x="476.23" y="161.21" width="1.5" height="1.3" fill="#22408e"/>
<rect x="476.23" y="162.64" width="1.5" height="1.3" fill="#3a57a1"/>
<rect x="476.23" y="164.06" width="1.5" height="1.3" fill="#526fb5"/>
<rect x="476.23" y="165.49" width="1.5" height="1.3" fill="#6a86c8"/>
<rect x="476.23" y="166.91" width="1.5" height="1.3" fill="#8ca1d5"/>
<rect x="476.23" y="168.34" width="1.5" height="1.3" fill="#aebde1"/>
<rect x="476.23" y="169.77" width="1.5" height="1.3" fill="#d0d8ee"/>
<rect x="479.14" y="162.91" width="1.5" height="1.3" fill="#22408e"/>
<rect x="479.14" y="164.37" width="1.5" height="1.3" fill="#3a57a1"/>
<rect x="479.14" y="165.83" width="1.5" height="1.3" fill="#526fb5"/>
<rect x="479.14" y="167.29" width="1.5" height="1.3" fill="#6a86c8"/>
<rect x="479.14" y="168.76" width="1.5" height="1.3" fill="#8ca1d5"/>
<rect x="479.14" y="170.22" width="1.5" height="1.3" fill="#aebde1"/>
<rect x="479.14" y="171.68" width="1.5" height="1.3" fill="#d0d8ee"/>
<rect x="482.05" y="164.60" width="1.5" height="1.3" fill="#22408e"/>
<rect x="482.05" y="166.10" width="1.5" height="1.3" fill="#3a57a1"/>
<rect x="482.05" y="167.60" width="1.5" height="1.3" fill="#526fb5"/>
<rect x="482.05" y="169.10" width="1.5" height="1.3" fill="#6a86c8"/>
<rect x="482.05" y="170.60" width="1.5" height="1.3" fill="#8ca1d5"/>
<rect x="482.05" y="172.10" width="1.5" height="1.3" fill="#aebde1"/>
<rect x="482.05" y="173.60" width="1.5" height="1.3" fill="#d0d8ee"/>
<rect x="484.96" y="166.29" width="1.5" height="1.3" fill="#22408e"/>
<rect x="484.96" y="167.83" width="1.5" height="1.3" fill="#3a57a1"/>
<rect x="484.96" y="169.37" width="1.5" height="1.3" fill="#526fb5"/>
<rect x="484.96" y="170.91" width="1.5" height="1.3" fill="#6a86c8"/>
<rect x="484.96" y="172.44" width="1.5" height="1.3" fill="#8ca1d5"/>
<rect x="484.96" y="173.98" width="1.5" height="1.3" fill="#aebde1"/>
<rect x="484.96" y="175.52" width="1.5" height="1.3" fill="#d0d8ee"/>
<rect x="487.87" y="167.99" width="1.5" height="1.3" fill="#22408e"/>
<rect x="487.87" y="169.56" width="1.5" height="1.3" fill="#3a57a1"/>
<rect x="487.87" y="171.14" width="1.5" height="1.3" fill="#526fb5"/>
<rect x="487.87" y="172.71" width="1.5" height="1.3" fill="#6a86c8"/>
<rect x="487.87" y="174.29" width="1.5" height="1.3" fill="#8ca1d5"/>
<rect x="487.87" y="175.86" width="1.5" height="1.3" fill="#aebde1"/>
<rect x="487.87" y="177.43" width="1.5" height="1.3" fill="#d0d8ee"/>
<rect x="490.78" y="169.68" width="1.5" height="1.3" fill="#22408e"/>
<rect x="490.78" y="171.29" width="1.5" height="1.3" fill="#3a57a1"/>
<rect x="490.78" y="172.91" width="1.5" height="1.3" fill="#526fb5"/>
<rect x="490.78" y="174.52" width="1.5" height="1.3" fill="#6a86c8"/>
<rect x="490.78" y="176.13" width="1.5" height="1.3" fill="#8ca1d5"/>
<rect x="490.78" y="177.74" width="1.5" height="1.3" fill="#aebde1"/>
<rect x="490.78" y="179.35" width="1.5" height="1.3" fill="#d0d8ee"/>
<rect x="493.69" y="171.38" width="1.5" height="1.3" fill="#22408e"/>
<rect x="493.69" y="173.03" width="1.5" height="1.3" fill="#3a57a1"/>
<rect x="493.69" y="174.67" width="1.5" height="1.3" fill="#526fb5"/>
<rect x="493.69" y="176.32" width="1.5" height="1.3" fill="#6a86c8"/>
<rect x="493.69" y="177.97" width="1.5" height="1.3" fill="#8ca1d5"/>
<rect x="493.69" y="179.62" width="1.5" height="1.3" fill="#aebde1"/>
<rect x="493.69" y="181.27" width="1.5" height="1.3" fill="#d0d8ee"/>
<rect x="496.61" y="173.07" width="1.5" height="1.3" fill="#22408e"/>
<rect x="496.61" y="174.76" width="1.5" height="1.3" fill="#3a57a1"/>
<rect x="496.61" y="176.44" width="1.5" height="1.3" fill="#526fb5"/>
<rect x="496.61" y="178.13" width="1.5" height="1.3" fill="#6a86c8"/>
<rect x="496.61" y="179.81" width="1.5" height="1.3" fill="#8ca1d5"/>
<rect x="496.61" y="181.50" width="1.5" height="1.3" fill="#aebde1"/>
<rect x="496.61" y="183.18" width="1.5" height="1.3" fill="#d0d8ee"/>
<rect x="499.52" y="174.77" width="1.5" height="1.3" fill="#22408e"/>
<rect x="499.52" y="176.49" width="1.5" height="1.3" fill="#3a57a1"/>
<rect x="499.52" y="178.21" width="1.5" height="1.3" fill="#526fb5"/>
<rect x="499.52" y="179.93" width="1.5" height="1.3" fill="#6a86c8"/>
<rect x="499.52" y="181.66" width="1.5" height="1.3" fill="#8ca1d5"/>
<rect x="499.52" y="183.38" width="1.5" height="1.3" fill="#aebde1"/>
<rect x="499.52" y="185.10" width="1.5" height="1.3" fill="#d0d8ee"/>
<rect x="502.43" y="176.46" width="1.5" height="1.3" fill="#22408e"/>
<rect x="502.43" y="178.22" width="1.5" height="1.3" fill="#3a57a1"/>
<rect x="502.43" y="179.98" width="1.5" height="1.3" fill="#526fb5"/>
<rect x="502.43" y="181.74" width="1.5" height="1.3" fill="#6a86c8"/>
<rect x="502.43" y="183.50" width="1.5" height="1.3" fill="#8ca1d5"/>
<rect x="502.43" y="185.26" width="1.5" height="1.3" fill="#aebde1"/>
<rect x="502.43" y="187.02" width="1.5" height="1.3" fill="#d0d8ee"/>
<rect x="505.34" y="178.16" width="1.5" height="1.3" fill="#22408e"/>
<rect x="505.34" y="179.95" width="1.5" height="1.3" fill="#3a57a1"/>
<rect x="505.34" y="181.75" width="1.5" height="1.3" fill="#526fb5"/>
<rect x="505.34" y="183.54" width="1.5" height="1.3" fill="#6a86c8"/>
<rect x="505.34" y="185.34" width="1.5" height="1.3" fill="#8ca1d5"/>
<rect x="505.34" y="187.14" width="1.5" height="1.3" fill="#aebde1"/>
<rect x="505.34" y="188.93" width="1.5" height="1.3" fill="#d0d8ee"/>
<rect x="508.25" y="179.85" width="1.5" height="1.3" fill="#22408e"/>
<rect x="508.25" y="181.68" width="1.5" height="1.3" fill="#3a57a1"/>
<rect x="508.25" y="183.52" width="1.5" height="1.3" fill="#526fb5"/>
<rect x="508.25" y="185.35" width="1.5" height="1.3" fill="#6a86c8"/>
<rect x="508.25" y="187.18" width="1.5" height="1.3" fill="#8ca1d5"/>
<rect x="508.25" y="189.02" width="1.5" height="1.3" fill="#aebde1"/>
<rect x="508.25" y="190.85" width="1.5" height="1.3" fill="#d0d8ee"/>
<circle cx="526.95" cy="142.38" r="0.9" fill="#3f7f2a"/>
<circle cx="529.59" cy="142.38" r="0.9" fill="#3f7f2a"/>
<circle cx="532.22" cy="142.38" r="0.9" fill="#3f7f2a"/>
<circle cx="534.86" cy="142.38" r="0.9" fill="#3f7f2a"/>
<circle cx="537.50" cy="142.38" r="0.9" fill="#3f7f2a"/>
<circle cx="540.13" cy="142.38" r="0.9" fill="#3f7f2a"/>
<circle cx="542.77" cy="142.38" r="0.9" fill="#3f7f2a"/>
<circle cx="545.40" cy="142.38" r="0.9" fill="#3f7f2a"/>
<circle cx="548.04" cy="142.38" r="0.9" fill="#3f7f2a"/>
<circle cx="550.68" cy="142.38" r="0.9" fill="#3f7f2a"/>
<circle cx="553.31" cy="142.38" r="0.9" fill="#3f7f2a"/>
<circle cx="555.95" cy="142.38" r="0.9" fill="#3f7f2a"/>
<circle cx="580.02" cy="142.38" r="0.9" fill="#3f7f2a"/>
<circle cx="582.70" cy="142.38" r="0.9" fill="#3f7f2a"/>
<circle cx="585.38" cy="142.38" r="0.9" fill="#3f7f2a"/>
<circle cx="588.07" cy="142.38" r="0.9" fill="#3f7f2a"/>
<circle cx="590.75" cy="142.38" r="0.9" fill="#3f7f2a"/>
<circle cx="593.43" cy="142.38" r="0.9" fill="#3f7f2a"/>
<circle cx="596.12" cy="142.38" r="0.9" fill="#3f7f2a"/>
<rect x="617.55" y="149.35" width="1.5" height="1.3" fill="#2e741e"/>
<rect x="617.55" y="150.52" width="1.5" height="1.3" fill="#488d33"/>
<rect x="617.55" y="151.68" width="1.5" height="1.3" fill="#62a549"/>
<rect x="617.55" y="152.85" width="1.5" height="1.3" fill="#7cbe5e"/>
<rect x="617.55" y="154.02" width="1.5" height="1.3" fill="#99cd81"/>
<rect x="617.55" y="155.18" width="1.5" height="1.3" fill="#b7dba5"/>
<rect x="617.55" y="156.35" width="1.5" height="1.3" fill="#d4eac8"/>
<rect x="620.49" y="150.99" width="1.5" height="1.3" fill="#2e741e"/>
<rect x="620.49" y="152.19" width="1.5" height="1.3" fill="#488d33"/>
<rect x="620.49" y="153.40" width="1.5" height="1.3" fill="#62a549"/>
<rect x="620.49" y="154.60" width="1.5" height="1.3" fill="#7cbe5e"/>
<rect x="620.49" y="155.80" width="1.5" height="1.3" fill="#99cd81"/>
<rect x="620.49" y="157.01" width="1.5" height="1.3" fill="#b7dba5"/>
<rect x="620.49" y="158.21" width="1.5" height="1.3" fill="#d4eac8"/>
<rect x="623.44" y="152.63" width="1.5" height="1.3" fill="#2e741e"/>
<rect x="623.44" y="153.87" width="1.5" height="1.3" fill="#488d33"/>
<rect x="623.44" y="155.11" width="1.5" height="1.3" fill="#62a549"/>
<rect x="623.44" y="156.35" width="1.5" height="1.3" fill="#7cbe5e"/>
<rect x="623.44" y="157.59" width="1.5" height="1.3" fill="#99cd81"/>
<rect x="623.44" y="158.83" width="1.5" height="1.3" fill="#b7dba5"/>
<rect x="623.44" y="160.07" width="1.5" height="1.3" fill="#d4eac8"/>
<rect x="626.38" y="154.27" width="1.5" height="1.3" fill="#2e741e"/>
<rect x="626.38" y="155.54" width="1.5" height="1.3" fill="#488d33"/>
<rect x="626.38" y="156.82" width="1.5" height="1.3" fill="#62a549"/>
<rect x="626.38" y="158.10" width="1.5" height="1.3" fill="#7cbe5e"/>
<rect x="626.38" y="159.38" width="1.5" height="1.3" fill="#99cd81"/>
<rect x="626.38" y="160.66" width="1.5" height="1.3" fill="#b7dba5"/>
<rect x="626.38" y="161.93" width="1.5" height="1.3" fill="#d4eac8"/>
<rect x="629.33" y="155.91" width="1.5" height="1.3" fill="#2e741e"/>
<rect x="629.33" y="157.22" width="1.5" height="1.3" fill="#488d33"/>
<rect x="629.33" y="158.54" width="1.5" height="1.3" fill="#62a549"/>
<rect x="629.33" y="159.85" width="1.5" height="1.3" fill="#7cbe5e"/>
<rect x="629.33" y="161.16" width="1.5" height="1.3" fill="#99cd81"/>
<rect x="629.33" y="162.48" width="1.5" height="1.3" fill="#b7dba5"/>
<rect x="629.33" y="163.79" width="1.5" height="1.3" fill="#d4eac8"/>
<rect x="632.27" y="157.54" width="1.5" height="1.3" fill="#2e741e"/>
<rect x="632.27" y="158.90" width="1.5" height="1.3" fill="#488d33"/>
<rect x="632.27" y="160.25" width="1.5" height="1.3" fill="#62a549"/>
<rect x="632.27" y="161.60" width="1.5" height="1.3" fill="#7cbe5e"/>
<rect x="632.27" y="162.95" width="1.5" height="1.3" fill="#99cd81"/>
<rect x="632.27" y="164.30" width="1.5" height="1.3" fill="#b7dba5"/>
<rect x="632.27" y="165.66" width="1.5" height="1.3" fill="#d4eac8"/>
<rect x="635.22" y="159.18" width="1.5" height="1.3" fill="#2e741e"/>
<rect x="635.22" y="160.57" width="1.5" height="1.3" fill="#488d33"/>
<rect x="635.22" y="161.96" width="1.5" height="1.3" fill="#62a549"/>
<rect x="635.22" y="163.35" width="1.5" height="1.3" fill="#7cbe5e"/>
<rect x="635.22" y="164.74" width="1.5" height="1.3" fill="#99cd81"/>
<rect x="635.22" y="166.13" width="1.5" height="1.3" fill="#b7dba5"/>
<rect x="635.22" y="167.52" width="1.5" height="1.3" fill="#d4eac8"/>
<rect x="638.16" y="160.82" width="1.5" height="1.3" fill="#2e741e"/>
<rect x="638.16" y="162.25" width="1.5" height="1.3" fill="#488d33"/>
<rect x="638.16" y="163.67" width="1.5" height="1.3" fill="#62a549"/>
<rect x="638.16" y="165.10" width="1.5" height="1.3" fill="#7cbe5e"/>
<rect x="638.16" y="166.53" width="1.5" height="1.3" fill="#99cd81"/>
<rect x="638.16" y="167.95" width="1.5" height="1.3" fill="#b7dba5"/>
<rect x="638.16" y="169.38" width="1.5" height="1.3" fill="#d4eac8"/>
<rect x="641.11" y="162.46" width="1.5" height="1.3" fill="#2e741e"/>
<rect x="641.11" y="163.92" width="1.5" height="1.3" fill="#488d33"/>
<rect x="641.11" y="165.39" width="1.5" height="1.3" fill="#62a549"/>
<rect x="641.11" y="166.85" width="1.5" height="1.3" fill="#7cbe5e"/>
<rect x="641.11" y="168.31" width="1.5" height="1.3" fill="#99cd81"/>
<rect x="641.11" y="169.78" width="1.5" height="1.3" fill="#b7dba5"/>
<rect x="641.11" y="171.24" width="1.5" height="1.3" fill="#d4eac8"/>
<rect x="644.05" y="164.10" width="1.5" height="1.3" fill="#2e741e"/>
<rect x="644.05" y="165.60" width="1.5" height="1.3" fill="#488d33"/>
<rect x="644.05" y="167.10" width="1.5" height="1.3" fill="#62a549"/>
<rect x="644.05" y="168.60" width="1.5" height="1.3" fill="#7cbe5e"/>
<rect x="644.05" y="170.10" width="1.5" height="1.3" fill="#99cd81"/>
<rect x="644.05" y="171.60" width="1.5" height="1.3" fill="#b7dba5"/>
<rect x="644.05" y="173.10" width="1.5" height="1.3" fill="#d4eac8"/>
<rect x="646.99" y="165.74" width="1.5" height="1.3" fill="#2e741e"/>
<rect x="646.99" y="167.28" width="1.5" height="1.3" fill="#488d33"/>
<rect x="646.99" y="168.81" width="1.5" height="1.3" fill="#62a549"/>
<rect x="646.99" y="170.35" width="1.5" height="1.3" fill="#7cbe5e"/>
<rect x="646.99" y="171.89" width="1.5" height="1.3" fill="#99cd81"/>
<rect x="646.99" y="173.42" width="1.5" height="1.3" fill="#b7dba5"/>
<rect x="646.99" y="174.96" width="1.5" height="1.3" fill="#d4eac8"/>
<rect x="649.94" y="167.38" width="1.5" height="1.3" fill="#2e741e"/>
<rect x="649.94" y="168.95" width="1.5" height="1.3" fill="#488d33"/>
<rect x="649.94" y="170.53" width="1.5" height="1.3" fill="#62a549"/>
<rect x="649.94" y="172.10" width="1.5" height="1.3" fill="#7cbe5e"/>
<rect x="649.94" y="173.67" width="1.5" height="1.3" fill="#99cd81"/>
<rect x="649.94" y="175.25" width="1.5" height="1.3" fill="#b7dba5"/>
<rect x="649.94" y="176.82" width="1.5" height="1.3" fill="#d4eac8"/>
<rect x="652.88" y="169.02" width="1.5" height="1.3" fill="#2e741e"/>
<rect x="652.88" y="170.63" width="1.5" height="1.3" fill="#488d33"/>
<rect x="652.88" y="172.24" width="1.5" height="1.3" fill="#62a549"/>
<rect x="652.88" y="173.85" width="1.5" height="1.3" fill="#7cbe5e"/>
<rect x="652.88" y="175.46" width="1.5" height="1.3" fill="#99cd81"/>
<rect x="652.88" y="177.07" width="1.5" height="1.3" fill="#b7dba5"/>
<rect x="652.88" y="178.68" width="1.5" height="1.3" fill="#d4eac8"/>
<rect x="655.83" y="170.66" width="1.5" height="1.3" fill="#2e741e"/>
<rect x="655.83" y="172.30" width="1.5" height="1.3" fill="#488d33"/>
<rect x="655.83" y="173.95" width="1.5" height="1.3" fill="#62a549"/>
<rect x="655.83" y="175.60" width="1.5" height="1.3" fill="#7cbe5e"/>
<rect x="655.83" y="177.25" width="1.5" height="1.3" fill="#99cd81"/>
<rect x="655.83" y="178.90" width="1.5" height="1.3" fill="#b7dba5"/>
<rect x="655.83" y="180.54" width="1.5" height="1.3" fill="#d4eac8"/>
<rect x="658.77" y="172.29" width="1.5" height="1.3" fill="#2e741e"/>
<rect x="658.77" y="173.98" width="1.5" height="1.3" fill="#488d33"/>
<rect x="658.77" y="175.66" width="1.5" height="1.3" fill="#62a549"/>
<rect x="658.77" y="177.35" width="1.5" height="1.3" fill="#7cbe5e"/>
<rect x="658.77" y="179.04" width="1.5" height="1.3" fill="#99cd81"/>
<rect x="658.77" y="180.72" width="1.5" height="1.3" fill="#b7dba5"/>
<rect x="658.77" y="182.41" width="1.5" height="1.3" fill="#d4eac8"/>
<rect x="661.72" y="173.93" width="1.5" height="1.3" fill="#2e741e"/>
<rect x="661.72" y="175.66" width="1.5" height="1.3" fill="#488d33"/>
<rect x="661.72" y="177.38" width="1.5" height="1.3" fill="#62a549"/>
<rect x="661.72" y="179.10" width="1.5" height="1.3" fill="#7cbe5e"/>
<rect x="661.72" y="180.82" width="1.5" height="1.3" fill="#99cd81"/>
<rect x="661.72" y="182.54" width="1.5" height="1.3" fill="#b7dba5"/>
<rect x="661.72" y="184.27" width="1.5" height="1.3" fill="#d4eac8"/>
<rect x="664.66" y="175.57" width="1.5" height="1.3" fill="#2e741e"/>
<rect x="664.66" y="177.33" width="1.5" height="1.3" fill="#488d33"/>
<rect x="664.66" y="179.09" width="1.5" height="1.3" fill="#62a549"/>
<rect x="664.66" y="180.85" width="1.5" height="1.3" fill="#7cbe5e"/>
<rect x="664.66" y="182.61" width="1.5" height="1.3" fill="#99cd81"/>
<rect x="664.66" y="184.37" width="1.5" height="1.3" fill="#b7dba5"/>
<rect x="664.66" y="186.13" width="1.5" height="1.3" fill="#d4eac8"/>
<rect x="667.61" y="177.21" width="1.5" height="1.3" fill="#2e741e"/>
<rect x="667.61" y="179.01" width="1.5" height="1.3" fill="#488d33"/>
<rect x="667.61" y="180.80" width="1.5" height="1.3" fill="#62a549"/>
<rect x="667.61" y="182.60" width="1.5" height="1.3" fill="#7cbe5e"/>
<rect x="667.61" y="184.40" width="1.5" height="1.3" fill="#99cd81"/>
<rect x="667.61" y="186.19" width="1.5" height="1.3" fill="#b7dba5"/>
<rect x="667.61" y="187.99" width="1.5" height="1.3" fill="#d4eac8"/>
<rect x="670.55" y="178.85" width="1.5" height="1.3" fill="#2e741e"/>
<rect x="670.55" y="180.68" width="1.5" height="1.3" fill="#488d33"/>
<rect x="670.55" y="182.52" width="1.5" height="1.3" fill="#62a549"/>
<rect x="670.55" y="184.35" width="1.5" height="1.3" fill="#7cbe5e"/>
<rect x="670.55" y="186.18" width="1.5" height="1.3" fill="#99cd81"/>
<rect x="670.55" y="188.02" width="1.5" height="1.3" fill="#b7dba5"/>
<rect x="670.55" y="189.85" width="1.5" height="1.3" fill="#d4eac8"/>
<line x1="39.50" y1="240.00" x2="192.00" y2="240.00" stroke="#3a3a3a" stroke-width="1" />
<line x1="192.00" y1="240.00" x2="192.00" y2="381.50" stroke="#3a3a3a" stroke-width="1" />
<line x1="39.50" y1="240.00" x2="39.50" y2="381.50" stroke="#3a3a3a" stroke-width="1" />
<line x1="39.50" y1="381.50" x2="192.00" y2="381.50" stroke="#3a3a3a" stroke-width="1" />
<line x1="46.60" y1="381.50" x2="46.60" y2="379.10" stroke="#3a3a3a" stroke-width="0.8" />
<line x1="69.55" y1="381.50" x2="69.55" y2="379.10" stroke="#3a3a3a" stroke-width="0.8" />
<line x1="92.50" y1="381.50" x2="92.50" y2="379.10" stroke="#3a3a3a" stroke-width="0.8" />
<line x1="115.45" y1="381.50" x2="115.45" y2="379.10" stroke="#3a3a3a" stroke-width="0.8" />
<line x1="138.40" y1="381.50" x2="138.40" y2="379.10" stroke="#3a3a3a" stroke-width="0.8" />
<line x1="161.35" y1="381.50" x2="161.35" y2="379.10" stroke="#3a3a3a" stroke-width="0.8" />
<line x1="184.30" y1="381.50" x2="184.30" y2="379.10" stroke="#3a3a3a" stroke-width="0.8" />
<line x1="39.50" y1="256.85" x2="41.70" y2="256.85" stroke="#555" stroke-width="0.75" />
<line x1="39.50" y1="273.70" x2="41.70" y2="273.70" stroke="#555" stroke-width="0.75" />
<line x1="39.50" y1="290.55" x2="41.70" y2="290.55" stroke="#555" stroke-width="0.75" />
<line x1="39.50" y1="307.40" x2="41.70" y2="307.40" stroke="#555" stroke-width="0.75" />
<line x1="39.50" y1="324.25" x2="41.70" y2="324.25" stroke="#555" stroke-width="0.75" />
<line x1="39.50" y1="341.10" x2="41.70" y2="341.10" stroke="#555" stroke-width="0.75" />
<line x1="39.50" y1="357.95" x2="41.70" y2="357.95" stroke="#555" stroke-width="0.75" />
<text x="0.00" y="0.00" font-size="11.0" text-anchor="middle" fill="#231f20" transform="translate(45.60,392.60) scale(0.88,1)">-10</text>
<text x="0.00" y="0.00" font-size="11.0" text-anchor="middle" fill="#231f20" transform="translate(93.30,392.60) scale(0.88,1)">0</text>
<text x="0.00" y="0.00" font-size="11.0" text-anchor="middle" fill="#231f20" transform="translate(139.20,392.60) scale(0.88,1)">10</text>
<text x="0.00" y="0.00" font-size="11.0" text-anchor="middle" fill="#231f20" transform="translate(185.10,392.60) scale(0.88,1)">20</text>
<text x="113.70" y="407.00" font-size="10" text-anchor="middle" fill="#231f20" textLength="20.4" lengthAdjust="spacingAndGlyphs" >AoA</text>
<line x1="201.50" y1="240.00" x2="354.00" y2="240.00" stroke="#3a3a3a" stroke-width="1" />
<line x1="354.00" y1="240.00" x2="354.00" y2="381.50" stroke="#3a3a3a" stroke-width="1" />
<line x1="201.50" y1="240.00" x2="201.50" y2="381.50" stroke="#3a3a3a" stroke-width="1" />
<line x1="201.50" y1="381.50" x2="354.00" y2="381.50" stroke="#3a3a3a" stroke-width="1" />
<line x1="208.60" y1="381.50" x2="208.60" y2="379.10" stroke="#3a3a3a" stroke-width="0.8" />
<line x1="231.55" y1="381.50" x2="231.55" y2="379.10" stroke="#3a3a3a" stroke-width="0.8" />
<line x1="254.50" y1="381.50" x2="254.50" y2="379.10" stroke="#3a3a3a" stroke-width="0.8" />
<line x1="277.45" y1="381.50" x2="277.45" y2="379.10" stroke="#3a3a3a" stroke-width="0.8" />
<line x1="300.40" y1="381.50" x2="300.40" y2="379.10" stroke="#3a3a3a" stroke-width="0.8" />
<line x1="323.35" y1="381.50" x2="323.35" y2="379.10" stroke="#3a3a3a" stroke-width="0.8" />
<line x1="346.30" y1="381.50" x2="346.30" y2="379.10" stroke="#3a3a3a" stroke-width="0.8" />
<line x1="201.50" y1="256.85" x2="203.70" y2="256.85" stroke="#555" stroke-width="0.75" />
<line x1="201.50" y1="273.70" x2="203.70" y2="273.70" stroke="#555" stroke-width="0.75" />
<line x1="201.50" y1="290.55" x2="203.70" y2="290.55" stroke="#555" stroke-width="0.75" />
<line x1="201.50" y1="307.40" x2="203.70" y2="307.40" stroke="#555" stroke-width="0.75" />
<line x1="201.50" y1="324.25" x2="203.70" y2="324.25" stroke="#555" stroke-width="0.75" />
<line x1="201.50" y1="341.10" x2="203.70" y2="341.10" stroke="#555" stroke-width="0.75" />
<line x1="201.50" y1="357.95" x2="203.70" y2="357.95" stroke="#555" stroke-width="0.75" />
<text x="0.00" y="0.00" font-size="11.0" text-anchor="middle" fill="#231f20" transform="translate(207.60,392.60) scale(0.88,1)">-10</text>
<text x="0.00" y="0.00" font-size="11.0" text-anchor="middle" fill="#231f20" transform="translate(255.30,392.60) scale(0.88,1)">0</text>
<text x="0.00" y="0.00" font-size="11.0" text-anchor="middle" fill="#231f20" transform="translate(301.20,392.60) scale(0.88,1)">10</text>
<text x="0.00" y="0.00" font-size="11.0" text-anchor="middle" fill="#231f20" transform="translate(347.10,392.60) scale(0.88,1)">20</text>
<text x="277.70" y="407.00" font-size="10" text-anchor="middle" fill="#231f20" textLength="20.4" lengthAdjust="spacingAndGlyphs" >AoA</text>
<line x1="363.50" y1="240.00" x2="516.00" y2="240.00" stroke="#3a3a3a" stroke-width="1" />
<line x1="516.00" y1="240.00" x2="516.00" y2="381.50" stroke="#3a3a3a" stroke-width="1" />
<line x1="363.50" y1="240.00" x2="363.50" y2="381.50" stroke="#3a3a3a" stroke-width="1" />
<line x1="363.50" y1="381.50" x2="516.00" y2="381.50" stroke="#3a3a3a" stroke-width="1" />
<line x1="370.60" y1="381.50" x2="370.60" y2="379.10" stroke="#3a3a3a" stroke-width="0.8" />
<line x1="393.55" y1="381.50" x2="393.55" y2="379.10" stroke="#3a3a3a" stroke-width="0.8" />
<line x1="416.50" y1="381.50" x2="416.50" y2="379.10" stroke="#3a3a3a" stroke-width="0.8" />
<line x1="439.45" y1="381.50" x2="439.45" y2="379.10" stroke="#3a3a3a" stroke-width="0.8" />
<line x1="462.40" y1="381.50" x2="462.40" y2="379.10" stroke="#3a3a3a" stroke-width="0.8" />
<line x1="485.35" y1="381.50" x2="485.35" y2="379.10" stroke="#3a3a3a" stroke-width="0.8" />
<line x1="508.30" y1="381.50" x2="508.30" y2="379.10" stroke="#3a3a3a" stroke-width="0.8" />
<line x1="363.50" y1="256.85" x2="365.70" y2="256.85" stroke="#555" stroke-width="0.75" />
<line x1="363.50" y1="273.70" x2="365.70" y2="273.70" stroke="#555" stroke-width="0.75" />
<line x1="363.50" y1="290.55" x2="365.70" y2="290.55" stroke="#555" stroke-width="0.75" />
<line x1="363.50" y1="307.40" x2="365.70" y2="307.40" stroke="#555" stroke-width="0.75" />
<line x1="363.50" y1="324.25" x2="365.70" y2="324.25" stroke="#555" stroke-width="0.75" />
<line x1="363.50" y1="341.10" x2="365.70" y2="341.10" stroke="#555" stroke-width="0.75" />
<line x1="363.50" y1="357.95" x2="365.70" y2="357.95" stroke="#555" stroke-width="0.75" />
<text x="0.00" y="0.00" font-size="11.0" text-anchor="middle" fill="#231f20" transform="translate(369.60,392.60) scale(0.88,1)">-10</text>
<text x="0.00" y="0.00" font-size="11.0" text-anchor="middle" fill="#231f20" transform="translate(417.30,392.60) scale(0.88,1)">0</text>
<text x="0.00" y="0.00" font-size="11.0" text-anchor="middle" fill="#231f20" transform="translate(463.20,392.60) scale(0.88,1)">10</text>
<text x="0.00" y="0.00" font-size="11.0" text-anchor="middle" fill="#231f20" transform="translate(509.10,392.60) scale(0.88,1)">20</text>
<text x="450.60" y="407.00" font-size="10" text-anchor="middle" fill="#231f20" textLength="20.4" lengthAdjust="spacingAndGlyphs" >AoA</text>
<line x1="525.50" y1="240.00" x2="678.00" y2="240.00" stroke="#3a3a3a" stroke-width="1" />
<line x1="678.00" y1="240.00" x2="678.00" y2="381.50" stroke="#3a3a3a" stroke-width="1" />
<line x1="525.50" y1="240.00" x2="525.50" y2="381.50" stroke="#3a3a3a" stroke-width="1" />
<line x1="525.50" y1="381.50" x2="678.00" y2="381.50" stroke="#3a3a3a" stroke-width="1" />
<line x1="532.60" y1="381.50" x2="532.60" y2="379.10" stroke="#3a3a3a" stroke-width="0.8" />
<line x1="555.55" y1="381.50" x2="555.55" y2="379.10" stroke="#3a3a3a" stroke-width="0.8" />
<line x1="578.50" y1="381.50" x2="578.50" y2="379.10" stroke="#3a3a3a" stroke-width="0.8" />
<line x1="601.45" y1="381.50" x2="601.45" y2="379.10" stroke="#3a3a3a" stroke-width="0.8" />
<line x1="624.40" y1="381.50" x2="624.40" y2="379.10" stroke="#3a3a3a" stroke-width="0.8" />
<line x1="647.35" y1="381.50" x2="647.35" y2="379.10" stroke="#3a3a3a" stroke-width="0.8" />
<line x1="670.30" y1="381.50" x2="670.30" y2="379.10" stroke="#3a3a3a" stroke-width="0.8" />
<line x1="525.50" y1="256.85" x2="527.70" y2="256.85" stroke="#555" stroke-width="0.75" />
<line x1="525.50" y1="273.70" x2="527.70" y2="273.70" stroke="#555" stroke-width="0.75" />
<line x1="525.50" y1="290.55" x2="527.70" y2="290.55" stroke="#555" stroke-width="0.75" />
<line x1="525.50" y1="307.40" x2="527.70" y2="307.40" stroke="#555" stroke-width="0.75" />
<line x1="525.50" y1="324.25" x2="527.70" y2="324.25" stroke="#555" stroke-width="0.75" />
<line x1="525.50" y1="341.10" x2="527.70" y2="341.10" stroke="#555" stroke-width="0.75" />
<line x1="525.50" y1="357.95" x2="527.70" y2="357.95" stroke="#555" stroke-width="0.75" />
<text x="0.00" y="0.00" font-size="11.0" text-anchor="middle" fill="#231f20" transform="translate(531.60,392.60) scale(0.88,1)">-10</text>
<text x="0.00" y="0.00" font-size="11.0" text-anchor="middle" fill="#231f20" transform="translate(579.30,392.60) scale(0.88,1)">0</text>
<text x="0.00" y="0.00" font-size="11.0" text-anchor="middle" fill="#231f20" transform="translate(625.20,392.60) scale(0.88,1)">10</text>
<text x="0.00" y="0.00" font-size="11.0" text-anchor="middle" fill="#231f20" transform="translate(671.10,392.60) scale(0.88,1)">20</text>
<text x="604.70" y="407.00" font-size="10" text-anchor="middle" fill="#231f20" textLength="20.4" lengthAdjust="spacingAndGlyphs" >AoA</text>
<text x="0.00" y="0.00" font-size="11.0" text-anchor="end" fill="#231f20" transform="translate(37.20,244.00) scale(0.88,1)">1.5</text>
<text x="0.00" y="0.00" font-size="11.0" text-anchor="end" fill="#231f20" transform="translate(37.20,277.10) scale(0.88,1)">1</text>
<text x="0.00" y="0.00" font-size="11.0" text-anchor="end" fill="#231f20" transform="translate(37.20,311.20) scale(0.88,1)">0.5</text>
<text x="0.00" y="0.00" font-size="11.0" text-anchor="end" fill="#231f20" transform="translate(37.20,345.10) scale(0.88,1)">0</text>
<text x="0.00" y="0.00" font-size="11.0" text-anchor="end" fill="#231f20" transform="translate(37.20,378.80) scale(0.88,1)">-0.5</text>
<text x="0.00" y="0.00" font-size="10.2" text-anchor="middle" fill="#231f20" textLength="101" lengthAdjust="spacingAndGlyphs" transform="translate(19.0,306.6) rotate(-90)">Coefficient of lift (CL)</text>
<polyline points="46.60,360.65 184.30,262.58" fill="none" stroke="#767676" stroke-width="1.1" stroke-dasharray="10.5 2.6 1.2 2.6" stroke-linejoin="round"/>
<polyline points="69.55,343.12 92.50,329.64 115.45,310.77 132.89,299.31 138.40,295.27 144.83,291.22 161.35,282.46 172.82,279.09 184.30,276.40" fill="none" stroke="#767676" stroke-width="1.1" stroke-linejoin="round"/>
<polyline points="69.55,342.45 92.50,326.95 115.45,306.05 138.40,289.20 148.50,279.09 156.30,273.70 164.56,268.31 169.15,266.29 173.28,266.29 177.87,268.31 184.30,272.35" fill="none" stroke="#767676" stroke-width="1.1" stroke-dasharray="6.5 2.5" stroke-linejoin="round"/>
<polyline points="46.60,362.67 56.24,361.32 60.83,359.97 65.88,354.58 70.93,347.17 75.06,340.43 81.48,331.66 92.04,319.53 102.14,306.73 117.75,291.90 133.81,281.79 146.20,278.42 156.76,276.40 163.19,275.05 167.78,278.42 171.45,281.79 172.82,286.51 175.12,289.88 179.71,289.88 184.30,288.87" fill="none" stroke="#767676" stroke-width="1.25" stroke-dasharray="1.3 3.1" stroke-linejoin="round"/>
<line x1="161.35" y1="283.81" x2="161.35" y2="281.11" stroke="#767676" stroke-width="0.8" />
<line x1="172.82" y1="280.44" x2="172.82" y2="277.74" stroke="#767676" stroke-width="0.8" />
<line x1="184.30" y1="278.42" x2="184.30" y2="274.37" stroke="#767676" stroke-width="0.8" />
<polyline points="208.60,361.99 280.20,308.75 346.30,262.92" fill="none" stroke="#e05a24" stroke-width="1.1" stroke-linejoin="round"/>
<polyline points="231.55,341.10 242.11,335.71 252.21,333.01 260.01,328.29 266.43,320.21 272.86,313.47 282.96,305.38 298.56,292.24 307.28,285.83 317.38,278.42 326.10,273.03 333.91,267.63 338.04,267.63 346.30,272.01" fill="none" stroke="#e05a24" stroke-width="1.1" stroke-dasharray="6.5 2.5" stroke-linejoin="round"/>
<polyline points="208.60,351.55 215.94,349.19 225.12,345.14 232.93,341.10 243.94,333.01 254.96,324.25 262.76,315.49 270.56,305.38 280.66,295.94 290.76,289.20 301.78,283.14 312.79,278.42 317.38,279.09 321.51,286.51 328.40,287.18 334.82,285.83 345.84,283.81" fill="none" stroke="#e05a24" stroke-width="1.25" stroke-dasharray="1.3 3.1" stroke-linejoin="round"/>
<polyline points="231.55,339.75 237.98,338.40 254.50,337.06 265.52,330.32 277.45,318.86 300.86,302.01 311.88,295.27 323.81,298.64 334.82,289.20 346.30,285.16" fill="none" stroke="#e05a24" stroke-width="1.1" stroke-linejoin="round"/>
<line x1="231.55" y1="341.77" x2="231.55" y2="337.73" stroke="#e05a24" stroke-width="0.8" />
<line x1="254.50" y1="339.08" x2="254.50" y2="334.36" stroke="#e05a24" stroke-width="0.8" />
<line x1="323.81" y1="312.79" x2="323.81" y2="286.51" stroke="#e05a24" stroke-width="0.8" />
<line x1="334.82" y1="295.27" x2="334.82" y2="282.46" stroke="#e05a24" stroke-width="0.8" />
<line x1="346.30" y1="291.22" x2="346.30" y2="279.09" stroke="#e05a24" stroke-width="0.8" />
<polyline points="370.60,316.43 434.86,269.99 485.21,240.00" fill="none" stroke="#4560ad" stroke-width="1.1" stroke-dasharray="10.5 2.6 1.2 2.6" stroke-linejoin="round"/>
<polyline points="393.55,319.53 402.73,310.10 409.62,304.03 415.12,293.92 419.71,291.90 427.52,291.22 435.32,288.19 444.04,284.48 461.94,271.88 476.17,265.27 487.19,260.22 492.69,260.22 499.12,264.26 505.55,269.66 508.30,271.68" fill="none" stroke="#4560ad" stroke-width="1.1" stroke-dasharray="6.5 2.5" stroke-linejoin="round"/>
<polyline points="370.60,331.66 377.49,338.40 383.45,339.42 389.88,335.71 396.30,325.60 402.73,312.79 409.62,304.70 415.12,295.27 423.38,291.22 431.19,287.18 444.04,280.44 453.22,275.72 461.94,276.40 471.58,279.09 483.97,277.07 496.82,274.37 508.30,272.35" fill="none" stroke="#4560ad" stroke-width="1.25" stroke-dasharray="1.3 3.1" stroke-linejoin="round"/>
<polyline points="393.55,337.39 416.50,316.84 427.52,307.40 438.99,296.62 450.93,288.53 462.40,280.10 473.88,298.64 485.35,288.53 496.82,275.05 508.30,271.68" fill="none" stroke="#4560ad" stroke-width="1.1" stroke-linejoin="round"/>
<line x1="393.55" y1="340.09" x2="393.55" y2="334.70" stroke="#4560ad" stroke-width="0.7" />
<line x1="416.50" y1="319.53" x2="416.50" y2="314.14" stroke="#4560ad" stroke-width="0.7" />
<line x1="427.98" y1="310.10" x2="427.98" y2="304.70" stroke="#4560ad" stroke-width="0.7" />
<line x1="439.45" y1="299.31" x2="439.45" y2="293.92" stroke="#4560ad" stroke-width="0.7" />
<line x1="450.93" y1="291.22" x2="450.93" y2="285.83" stroke="#4560ad" stroke-width="0.7" />
<line x1="462.40" y1="282.80" x2="462.40" y2="277.41" stroke="#4560ad" stroke-width="0.7" />
<line x1="473.88" y1="301.33" x2="473.88" y2="295.94" stroke="#4560ad" stroke-width="0.7" />
<line x1="485.35" y1="291.22" x2="485.35" y2="285.83" stroke="#4560ad" stroke-width="0.7" />
<line x1="496.82" y1="277.74" x2="496.82" y2="272.35" stroke="#4560ad" stroke-width="0.7" />
<line x1="508.30" y1="274.37" x2="508.30" y2="268.98" stroke="#4560ad" stroke-width="0.7" />
<polyline points="532.60,314.61 600.07,265.61 643.68,240.00" fill="none" stroke="#50b846" stroke-width="1.1" stroke-dasharray="10.5 2.6 1.2 2.6" stroke-linejoin="round"/>
<polyline points="532.60,314.14 545.45,305.38 558.30,295.94 571.62,287.85 584.47,280.44 589.52,279.09 592.27,281.79 598.70,280.44 606.04,277.07 617.51,270.33 628.99,265.21 638.63,259.55 646.89,255.50 651.48,255.50 659.74,258.87 665.25,264.26 670.30,273.70" fill="none" stroke="#50b846" stroke-width="1.1" stroke-dasharray="6.5 2.5" stroke-linejoin="round"/>
<polyline points="532.60,314.14 545.45,303.36 558.30,297.29 571.62,290.55 584.47,284.48 590.89,282.80 606.04,277.07 617.51,271.68 623.48,269.66 632.66,268.98 638.63,271.00 644.60,277.41 649.19,278.42 658.37,277.41 670.30,275.72" fill="none" stroke="#50b846" stroke-width="1.25" stroke-dasharray="1.3 3.1" stroke-linejoin="round"/>
<polyline points="555.55,310.77 578.50,293.25 589.52,287.85 600.99,279.09 612.92,273.70 624.40,267.63 636.33,264.60 647.81,260.49 659.74,259.07 670.30,258.40" fill="none" stroke="#50b846" stroke-width="1.1" stroke-linejoin="round"/>
<line x1="555.55" y1="313.80" x2="555.55" y2="307.74" stroke="#50b846" stroke-width="0.7" />
<line x1="578.50" y1="296.28" x2="578.50" y2="290.21" stroke="#50b846" stroke-width="0.7" />
<line x1="589.98" y1="290.89" x2="589.98" y2="284.82" stroke="#50b846" stroke-width="0.7" />
<line x1="601.45" y1="282.12" x2="601.45" y2="276.06" stroke="#50b846" stroke-width="0.7" />
<line x1="612.92" y1="276.73" x2="612.92" y2="270.67" stroke="#50b846" stroke-width="0.7" />
<line x1="624.40" y1="270.67" x2="624.40" y2="264.60" stroke="#50b846" stroke-width="0.7" />
<line x1="635.88" y1="267.63" x2="635.88" y2="261.57" stroke="#50b846" stroke-width="0.7" />
<line x1="647.35" y1="263.52" x2="647.35" y2="257.46" stroke="#50b846" stroke-width="0.7" />
<line x1="658.83" y1="262.11" x2="658.83" y2="256.04" stroke="#50b846" stroke-width="0.7" />
<line x1="670.30" y1="261.43" x2="670.30" y2="255.37" stroke="#50b846" stroke-width="0.7" />
<path d="M184.2,356.2 C168,352.5 150,348.2 132,348.0 L114,348.0 C104,348.2 94.2,350.5 94.2,355.0 C94.2,358.6 98,358.7 103,358.5 C118,358.0 135,357.6 150,357.3 Z" fill="#7b7b7b"/>
<path d="M115.8,348.3 L112.0,353.2 L116.3,358.1 M141.0,348.3 L143.8,353.2 L141.3,357.6" stroke="#d8d8d8" stroke-width="0.6" fill="none"/>
<path d="M344.2,356.4 C330,353 315,348.4 299.6,348.0 L274,347.6 L271.3,352.6 L275.5,358.2 L301.1,357.2 Z" fill="#7b7b7b"/>
<path d="M273.6,347.9 C262,350.5 254,355 254.1,359.8 C254.3,363.6 258,363.6 263,362.5 C268,361.3 272,359.6 275.5,358.4 L271.4,352.8 Z" fill="#ec6a24"/>
<path d="M300.4,348.1 L303.6,352.8 L300.9,357.1" stroke="#d8d8d8" stroke-width="0.6" fill="none"/>
<path d="M437.6,348.6 L466.8,348.6 L468.3,353.2 L465.6,358.4 L440.2,358.9 L436.4,353.4 Z" fill="#7b7b7b"/>
<path d="M437.3,348.9 C428,351.5 419.5,355.5 419.2,360.0 C419.1,363.5 423,363.6 428,362.3 C433,361.0 437,359.8 440.2,359.0 L436.3,353.5 Z" fill="#3f55a8"/>
<path d="M467.6,349.2 C480,353 494,360 506.9,367.8 C493,363 478,359.5 465.5,358.3 L468.3,353.3 Z" fill="#3f55a8"/>
<path d="M629.2,348.0 L627.6,356.9 C612,357.6 598,358.3 588,358.4 C582,358.5 580,357 580.1,354.6 C580.3,350.6 590,347.6 600,347.3 L628,347.3 L630.4,352 Z" fill="#7b7b7b"/>
<path d="M601.2,347.4 L598.9,352.6 L601.9,358.1" stroke="#d8d8d8" stroke-width="0.6" fill="none"/>
<path d="M629.0,348.0 C643,353.5 656,359.5 669.4,366.7 C655,362 641,358.5 627.6,356.9 L630.6,352.2 Z" fill="#5ab946"/>
<line x1="202.30" y1="424.80" x2="216.00" y2="424.80" stroke="#8a8a8a" stroke-width="1.6" />
<text x="224.30" y="428.50" font-size="10" text-anchor="start" fill="#231f20" textLength="39.3" lengthAdjust="spacingAndGlyphs" >Baseline</text>
<line x1="287.50" y1="424.80" x2="300.40" y2="424.80" stroke="#e0642c" stroke-width="1.6" />
<text x="309.00" y="428.50" font-size="10" text-anchor="start" fill="#231f20" textLength="9.8" lengthAdjust="spacingAndGlyphs" >LE</text>
<line x1="371.60" y1="424.80" x2="385.00" y2="424.80" stroke="#3a87c8" stroke-width="1.6" />
<text x="393.10" y="428.50" font-size="10" text-anchor="start" fill="#231f20" textLength="25.1" lengthAdjust="spacingAndGlyphs" >LE-TE</text>
<line x1="455.60" y1="424.80" x2="468.80" y2="424.80" stroke="#3cb44f" stroke-width="1.6" />
<text x="478.00" y="428.50" font-size="10" text-anchor="start" fill="#231f20" textLength="10.1" lengthAdjust="spacingAndGlyphs" >TE</text>
<line x1="46.70" y1="453.50" x2="330.50" y2="453.50" stroke="#3a3a3a" stroke-width="1" />
<line x1="330.50" y1="453.50" x2="330.50" y2="581.50" stroke="#3a3a3a" stroke-width="1" />
<line x1="46.70" y1="453.50" x2="46.70" y2="581.50" stroke="#3a3a3a" stroke-width="1" />
<line x1="46.70" y1="581.50" x2="330.50" y2="581.50" stroke="#3a3a3a" stroke-width="1" />
<line x1="46.70" y1="565.50" x2="49.90" y2="565.50" stroke="#3a3a3a" stroke-width="0.8" />
<line x1="46.70" y1="549.50" x2="49.90" y2="549.50" stroke="#3a3a3a" stroke-width="0.8" />
<line x1="46.70" y1="533.50" x2="49.90" y2="533.50" stroke="#3a3a3a" stroke-width="0.8" />
<line x1="46.70" y1="517.50" x2="49.90" y2="517.50" stroke="#3a3a3a" stroke-width="0.8" />
<line x1="46.70" y1="501.50" x2="49.90" y2="501.50" stroke="#3a3a3a" stroke-width="0.8" />
<line x1="46.70" y1="485.50" x2="49.90" y2="485.50" stroke="#3a3a3a" stroke-width="0.8" />
<line x1="46.70" y1="469.50" x2="49.90" y2="469.50" stroke="#3a3a3a" stroke-width="0.8" />
<line x1="103.46" y1="581.50" x2="103.46" y2="578.30" stroke="#3a3a3a" stroke-width="0.8" />
<line x1="160.22" y1="581.50" x2="160.22" y2="578.30" stroke="#3a3a3a" stroke-width="0.8" />
<line x1="216.98" y1="581.50" x2="216.98" y2="578.30" stroke="#3a3a3a" stroke-width="0.8" />
<line x1="273.74" y1="581.50" x2="273.74" y2="578.30" stroke="#3a3a3a" stroke-width="0.8" />
<text x="0.00" y="0.00" font-size="11.0" text-anchor="end" fill="#231f20" transform="translate(37.00,584.80) scale(0.88,1)">0</text>
<text x="0.00" y="0.00" font-size="11.0" text-anchor="end" fill="#231f20" transform="translate(37.00,553.10) scale(0.88,1)">4</text>
<text x="0.00" y="0.00" font-size="11.0" text-anchor="end" fill="#231f20" transform="translate(37.00,520.40) scale(0.88,1)">8</text>
<text x="0.00" y="0.00" font-size="11.0" text-anchor="end" fill="#231f20" transform="translate(37.00,488.60) scale(0.88,1)">12</text>
<text x="0.00" y="0.00" font-size="11.0" text-anchor="end" fill="#231f20" transform="translate(37.00,455.50) scale(0.88,1)">16</text>
<text x="0.00" y="0.00" font-size="11.0" text-anchor="middle" fill="#231f20" transform="translate(47.90,597.70) scale(0.88,1)">0</text>
<text x="0.00" y="0.00" font-size="11.0" text-anchor="middle" fill="#231f20" transform="translate(104.66,597.70) scale(0.88,1)">10</text>
<text x="0.00" y="0.00" font-size="11.0" text-anchor="middle" fill="#231f20" transform="translate(161.42,597.70) scale(0.88,1)">20</text>
<text x="0.00" y="0.00" font-size="11.0" text-anchor="middle" fill="#231f20" transform="translate(218.18,597.70) scale(0.88,1)">30</text>
<text x="0.00" y="0.00" font-size="11.0" text-anchor="middle" fill="#231f20" transform="translate(274.94,597.70) scale(0.88,1)">40</text>
<text x="0.00" y="0.00" font-size="11.0" text-anchor="middle" fill="#231f20" transform="translate(331.70,597.70) scale(0.88,1)">50</text>
<text x="188.80" y="614.50" font-size="10" text-anchor="middle" fill="#231f20" textLength="37.2" lengthAdjust="spacingAndGlyphs" >Time (S)</text>
<text x="0.00" y="0.00" font-size="10.2" text-anchor="middle" fill="#231f20" textLength="47" lengthAdjust="spacingAndGlyphs" transform="translate(18.0,513.2) rotate(-90)">Power (w)</text>
<polyline points="93.24,581.50 97.78,581.50 103.18,551.90 109.42,551.90 114.81,581.50 154.54,581.50 159.94,558.70 166.46,558.70 171.57,581.50 211.30,581.50 216.70,551.90 223.22,551.90 228.33,581.50 268.63,581.50 273.74,558.70 279.70,558.70 284.81,581.50 287.93,581.50" fill="none" stroke="#c52d40" stroke-width="1.5" stroke-dasharray="4.4 2.4" />
<polyline points="52.38,581.50 97.39,581.50 103.46,521.50 154.32,521.50 160.39,465.90 211.47,465.90 217.38,525.10 279.81,525.10 285.21,581.50 330.50,581.50" fill="none" stroke="#2a7ac6" stroke-width="1.6" stroke-linejoin="miter"/>
<line x1="221.30" y1="464.40" x2="235.80" y2="464.40" stroke="#c52d40" stroke-width="1.5" stroke-dasharray="3.4 2.2"/>
<text x="238.60" y="465.10" font-size="10.6" text-anchor="start" fill="#c52d40" textLength="89.6" lengthAdjust="spacingAndGlyphs" >Bistable morphing</text>
<text x="238.60" y="479.20" font-size="10.6" text-anchor="start" fill="#c52d40" textLength="51.0" lengthAdjust="spacingAndGlyphs" >(this work)</text>
<line x1="221.30" y1="492.90" x2="235.30" y2="492.90" stroke="#2a7ac6" stroke-width="1.5" />
<text x="237.70" y="494.90" font-size="10.6" text-anchor="start" fill="#2a7ac6" textLength="51.3" lengthAdjust="spacingAndGlyphs" >Traditional</text>
<text x="237.70" y="508.10" font-size="10.6" text-anchor="start" fill="#2a7ac6" textLength="48.6" lengthAdjust="spacingAndGlyphs" >morphing</text>
<line x1="398.00" y1="453.50" x2="677.90" y2="453.50" stroke="#3a3a3a" stroke-width="1" />
<line x1="677.90" y1="453.50" x2="677.90" y2="581.50" stroke="#3a3a3a" stroke-width="1" />
<line x1="398.00" y1="453.50" x2="398.00" y2="581.50" stroke="#3a3a3a" stroke-width="1" />
<line x1="398.00" y1="581.50" x2="677.90" y2="581.50" stroke="#3a3a3a" stroke-width="1" />
<line x1="398.00" y1="563.48" x2="401.20" y2="563.48" stroke="#3a3a3a" stroke-width="0.8" />
<line x1="398.00" y1="545.45" x2="401.20" y2="545.45" stroke="#3a3a3a" stroke-width="0.8" />
<line x1="398.00" y1="527.42" x2="401.20" y2="527.42" stroke="#3a3a3a" stroke-width="0.8" />
<line x1="398.00" y1="509.40" x2="401.20" y2="509.40" stroke="#3a3a3a" stroke-width="0.8" />
<line x1="398.00" y1="491.38" x2="401.20" y2="491.38" stroke="#3a3a3a" stroke-width="0.8" />
<line x1="398.00" y1="473.35" x2="401.20" y2="473.35" stroke="#3a3a3a" stroke-width="0.8" />
<line x1="398.00" y1="455.32" x2="401.20" y2="455.32" stroke="#3a3a3a" stroke-width="0.8" />
<line x1="453.98" y1="581.50" x2="453.98" y2="578.30" stroke="#3a3a3a" stroke-width="0.8" />
<line x1="509.96" y1="581.50" x2="509.96" y2="578.30" stroke="#3a3a3a" stroke-width="0.8" />
<line x1="565.94" y1="581.50" x2="565.94" y2="578.30" stroke="#3a3a3a" stroke-width="0.8" />
<line x1="621.92" y1="581.50" x2="621.92" y2="578.30" stroke="#3a3a3a" stroke-width="0.8" />
<text x="0.00" y="0.00" font-size="11.0" text-anchor="end" fill="#231f20" transform="translate(392.40,583.40) scale(0.88,1)">0</text>
<text x="0.00" y="0.00" font-size="11.0" text-anchor="end" fill="#231f20" transform="translate(392.40,548.35) scale(0.88,1)">100</text>
<text x="0.00" y="0.00" font-size="11.0" text-anchor="end" fill="#231f20" transform="translate(392.40,512.20) scale(0.88,1)">200</text>
<text x="0.00" y="0.00" font-size="11.0" text-anchor="end" fill="#231f20" transform="translate(392.40,477.05) scale(0.88,1)">300</text>
<text x="0.00" y="0.00" font-size="11.0" text-anchor="middle" fill="#231f20" transform="translate(399.00,597.70) scale(0.88,1)">0</text>
<text x="0.00" y="0.00" font-size="11.0" text-anchor="middle" fill="#231f20" transform="translate(454.98,597.70) scale(0.88,1)">10</text>
<text x="0.00" y="0.00" font-size="11.0" text-anchor="middle" fill="#231f20" transform="translate(510.96,597.70) scale(0.88,1)">20</text>
<text x="0.00" y="0.00" font-size="11.0" text-anchor="middle" fill="#231f20" transform="translate(566.94,597.70) scale(0.88,1)">30</text>
<text x="0.00" y="0.00" font-size="11.0" text-anchor="middle" fill="#231f20" transform="translate(622.92,597.70) scale(0.88,1)">40</text>
<text x="0.00" y="0.00" font-size="11.0" text-anchor="middle" fill="#231f20" transform="translate(678.90,597.70) scale(0.88,1)">50</text>
<text x="538.00" y="614.50" font-size="10" text-anchor="middle" fill="#231f20" textLength="37.9" lengthAdjust="spacingAndGlyphs" >Time (S)</text>
<text x="0.00" y="0.00" font-size="10.2" text-anchor="middle" fill="#231f20" textLength="112.8" lengthAdjust="spacingAndGlyphs" transform="translate(367.6,520.8) rotate(-90)">Energy consumption (J)</text>
<polyline points="445.02,581.50 448.94,581.50 454.54,579.41 505.48,579.41 510.52,577.43 560.34,577.43 570.98,574.00 618.56,574.00 626.96,572.31 677.90,572.31" fill="none" stroke="#c52d40" stroke-width="1.5" stroke-dasharray="4.4 2.4" />
<polyline points="403.60,581.50 448.49,581.50 503.58,553.99 560.12,500.89 627.91,470.11 677.90,470.11" fill="none" stroke="#2a7ac6" stroke-width="1.6" />
<line x1="417.50" y1="464.00" x2="432.00" y2="464.00" stroke="#c52d40" stroke-width="1.5" stroke-dasharray="3.4 2.2"/>
<text x="434.80" y="464.70" font-size="10.6" text-anchor="start" fill="#c52d40" textLength="89.6" lengthAdjust="spacingAndGlyphs" >Bistable morphing</text>
<text x="434.80" y="478.80" font-size="10.6" text-anchor="start" fill="#c52d40" textLength="51.0" lengthAdjust="spacingAndGlyphs" >(this work)</text>
<line x1="417.50" y1="492.50" x2="431.50" y2="492.50" stroke="#2a7ac6" stroke-width="1.5" />
<text x="433.90" y="494.50" font-size="10.6" text-anchor="start" fill="#2a7ac6" textLength="51.3" lengthAdjust="spacingAndGlyphs" >Traditional</text>
<text x="433.90" y="507.70" font-size="10.6" text-anchor="start" fill="#2a7ac6" textLength="48.6" lengthAdjust="spacingAndGlyphs" >morphing</text>
<path d="M49.40,572.20 L49.45,571.92 L49.59,571.64 L49.83,571.38 L50.17,571.12 L50.59,570.87 L51.11,570.63 L51.72,570.40 L52.41,570.19 L53.19,569.99 L54.05,569.81 L54.98,569.65 L55.99,569.50 L57.06,569.38 L58.20,569.27 L59.40,569.19 L60.65,569.13 L61.95,569.09 L63.29,569.07 L64.67,569.07 L66.08,569.10 L67.51,569.14 L68.96,569.20 L70.43,569.28 L71.90,569.37 L73.37,569.48 L74.84,569.60 L76.29,569.74 L77.72,569.88 L79.13,570.03 L80.51,570.18 L81.85,570.34 L83.15,570.50 L84.40,570.66 L85.60,570.83 L86.74,570.99 L87.81,571.14 L88.82,571.29 L89.75,571.43 L90.61,571.57 L91.39,571.69 L92.08,571.81 L92.69,571.91 L93.21,571.99 L93.63,572.07 L93.97,572.12 L94.21,572.17 L94.35,572.19 L94.40,572.20 L94.40,572.20 L94.35,572.21 L94.21,572.22 L93.97,572.25 L93.63,572.29 L93.21,572.35 L92.69,572.41 L92.08,572.48 L91.39,572.56 L90.61,572.64 L89.75,572.74 L88.82,572.84 L87.81,572.94 L86.74,573.05 L85.60,573.16 L84.40,573.28 L83.15,573.39 L81.85,573.51 L80.51,573.63 L79.13,573.74 L77.72,573.85 L76.29,573.97 L74.84,574.07 L73.37,574.17 L71.90,574.27 L70.43,574.36 L68.96,574.43 L67.51,574.50 L66.08,574.56 L64.67,574.60 L63.29,574.63 L61.95,574.64 L60.65,574.63 L59.40,574.61 L58.20,574.56 L57.06,574.50 L55.99,574.42 L54.98,574.32 L54.05,574.20 L53.19,574.06 L52.41,573.91 L51.72,573.74 L51.11,573.56 L50.59,573.36 L50.17,573.15 L49.83,572.93 L49.59,572.69 L49.45,572.45 L49.40,572.20 Z" fill="#fff" fill-opacity="0" stroke="#1e1e1e" stroke-width="0.7" stroke-linejoin="round"/>
<circle cx="61.20" cy="571.90" r="2.3" fill="none" stroke="#1e1e1e" stroke-width="0.65"/>
<circle cx="61.20" cy="571.90" r="1.0" fill="none" stroke="#1e1e1e" stroke-width="0.5"/>
<circle cx="71.60" cy="571.90" r="2.3" fill="none" stroke="#1e1e1e" stroke-width="0.65"/>
<circle cx="71.60" cy="571.90" r="1.0" fill="none" stroke="#1e1e1e" stroke-width="0.5"/>
<line x1="58.90" y1="574.50" x2="74.90" y2="574.50" stroke="#2b2b2b" stroke-width="0.45"/>
<line x1="58.90" y1="569.50" x2="74.90" y2="569.50" stroke="#2b2b2b" stroke-width="0.45"/>
<path d="M111.19,541.75 L111.03,541.51 L110.96,541.21 L110.97,540.85 L111.07,540.42 L111.26,539.94 L111.55,539.41 L111.94,538.84 L112.44,538.23 L113.06,537.60 L113.80,536.95 L114.68,536.32 L115.69,535.71 L116.86,535.15 L118.22,534.69 L120.00,534.39 L121.25,534.33 L122.55,534.29 L123.89,534.27 L125.27,534.27 L126.68,534.30 L128.11,534.34 L129.56,534.40 L131.03,534.48 L132.50,534.57 L133.97,534.68 L135.44,534.80 L136.89,534.94 L138.32,535.08 L139.73,535.23 L141.11,535.38 L142.45,535.54 L143.75,535.70 L145.00,535.86 L146.20,536.03 L147.34,536.19 L148.41,536.34 L149.42,536.49 L150.35,536.63 L151.21,536.77 L151.99,536.89 L152.68,537.01 L153.29,537.11 L153.81,537.19 L154.23,537.27 L154.57,537.32 L154.81,537.37 L154.95,537.39 L155.00,537.40 L155.00,537.40 L154.95,537.41 L154.81,537.42 L154.57,537.45 L154.23,537.49 L153.81,537.55 L153.29,537.61 L152.68,537.68 L151.99,537.76 L151.21,537.84 L150.35,537.94 L149.42,538.04 L148.41,538.14 L147.34,538.25 L146.20,538.36 L145.00,538.48 L143.75,538.59 L142.45,538.71 L141.11,538.83 L139.73,538.94 L138.32,539.05 L136.89,539.17 L135.44,539.27 L133.97,539.37 L132.50,539.47 L131.03,539.56 L129.56,539.63 L128.11,539.70 L126.68,539.76 L125.27,539.80 L123.89,539.83 L122.55,539.84 L121.25,539.83 L120.00,539.81 L119.30,539.87 L118.41,540.04 L117.54,540.26 L116.70,540.52 L115.92,540.80 L115.19,541.06 L114.51,541.32 L113.89,541.54 L113.33,541.73 L112.82,541.88 L112.37,541.98 L111.99,542.02 L111.66,542.00 L111.39,541.91 L111.19,541.75 Z" fill="#fff" fill-opacity="0" stroke="#1e1e1e" stroke-width="0.7" stroke-linejoin="round"/>
<circle cx="121.80" cy="537.10" r="2.3" fill="none" stroke="#1e1e1e" stroke-width="0.65"/>
<circle cx="121.80" cy="537.10" r="1.0" fill="none" stroke="#1e1e1e" stroke-width="0.5"/>
<circle cx="132.20" cy="537.10" r="2.3" fill="none" stroke="#1e1e1e" stroke-width="0.65"/>
<circle cx="132.20" cy="537.10" r="1.0" fill="none" stroke="#1e1e1e" stroke-width="0.5"/>
<line x1="119.50" y1="539.70" x2="135.50" y2="539.70" stroke="#2b2b2b" stroke-width="0.45"/>
<line x1="119.50" y1="534.70" x2="135.50" y2="534.70" stroke="#2b2b2b" stroke-width="0.45"/>
<path d="M169.39,511.05 L169.23,510.81 L169.16,510.51 L169.17,510.15 L169.27,509.72 L169.46,509.24 L169.75,508.71 L170.14,508.14 L170.64,507.53 L171.26,506.90 L172.00,506.25 L172.88,505.62 L173.89,505.01 L175.06,504.45 L176.42,503.99 L178.20,503.69 L179.45,503.63 L180.75,503.59 L182.09,503.57 L183.47,503.57 L184.88,503.60 L186.31,503.64 L187.76,503.70 L189.23,503.78 L190.70,503.87 L192.17,503.98 L193.64,504.10 L195.64,504.56 L197.12,505.11 L198.50,505.71 L199.80,506.34 L201.03,507.00 L202.20,507.66 L203.31,508.32 L204.35,508.98 L205.32,509.62 L206.23,510.24 L207.07,510.83 L207.84,511.39 L208.54,511.92 L209.17,512.40 L209.73,512.83 L210.21,513.22 L210.62,513.55 L210.96,513.82 L211.22,514.04 L211.41,514.19 L211.52,514.29 L211.56,514.32 L211.56,514.32 L211.51,514.30 L211.38,514.24 L211.15,514.15 L210.84,514.02 L210.45,513.85 L209.97,513.65 L209.40,513.42 L208.76,513.16 L208.03,512.87 L207.24,512.55 L206.36,512.21 L205.43,511.85 L204.42,511.48 L203.36,511.10 L202.24,510.71 L201.06,510.32 L199.84,509.94 L198.58,509.57 L197.29,509.22 L195.97,508.92 L194.65,508.67 L193.64,508.57 L192.17,508.67 L190.70,508.77 L189.23,508.86 L187.76,508.93 L186.31,509.00 L184.88,509.06 L183.47,509.10 L182.09,509.13 L180.75,509.14 L179.45,509.13 L178.20,509.11 L177.50,509.17 L176.61,509.34 L175.74,509.56 L174.90,509.82 L174.12,510.10 L173.39,510.36 L172.71,510.62 L172.09,510.84 L171.53,511.03 L171.02,511.18 L170.57,511.28 L170.19,511.32 L169.86,511.30 L169.59,511.21 L169.39,511.05 Z" fill="#fff" fill-opacity="0" stroke="#1e1e1e" stroke-width="0.7" stroke-linejoin="round"/>
<circle cx="180.00" cy="506.40" r="2.3" fill="none" stroke="#1e1e1e" stroke-width="0.65"/>
<circle cx="180.00" cy="506.40" r="1.0" fill="none" stroke="#1e1e1e" stroke-width="0.5"/>
<circle cx="190.40" cy="506.40" r="2.3" fill="none" stroke="#1e1e1e" stroke-width="0.65"/>
<circle cx="190.40" cy="506.40" r="1.0" fill="none" stroke="#1e1e1e" stroke-width="0.5"/>
<line x1="177.70" y1="509.00" x2="193.70" y2="509.00" stroke="#2b2b2b" stroke-width="0.45"/>
<line x1="177.70" y1="504.00" x2="193.70" y2="504.00" stroke="#2b2b2b" stroke-width="0.45"/>
<path d="M227.00,535.40 L227.05,535.12 L227.19,534.84 L227.43,534.58 L227.77,534.32 L228.19,534.07 L228.71,533.83 L229.32,533.60 L230.01,533.39 L230.79,533.19 L231.65,533.01 L232.58,532.85 L233.59,532.70 L234.66,532.58 L235.80,532.47 L237.00,532.39 L238.25,532.33 L239.55,532.29 L240.89,532.27 L242.27,532.27 L243.68,532.30 L245.11,532.34 L246.56,532.40 L248.03,532.48 L249.50,532.57 L250.97,532.68 L252.44,532.80 L254.43,533.24 L255.90,533.78 L257.28,534.37 L258.59,534.99 L259.83,535.62 L261.01,536.27 L262.12,536.92 L263.17,537.56 L264.15,538.19 L265.07,538.79 L265.92,539.37 L266.70,539.92 L267.41,540.43 L268.04,540.90 L268.61,541.33 L269.10,541.70 L269.51,542.03 L269.85,542.29 L270.12,542.51 L270.31,542.66 L270.42,542.75 L270.46,542.78 L270.46,542.78 L270.42,542.76 L270.28,542.71 L270.06,542.62 L269.75,542.49 L269.35,542.33 L268.86,542.14 L268.29,541.92 L267.64,541.67 L266.92,541.39 L266.11,541.08 L265.24,540.76 L264.29,540.41 L263.28,540.06 L262.21,539.69 L261.08,539.32 L259.90,538.94 L258.68,538.58 L257.41,538.22 L256.11,537.89 L254.79,537.60 L253.47,537.36 L252.44,537.27 L250.97,537.37 L249.50,537.47 L248.03,537.56 L246.56,537.63 L245.11,537.70 L243.68,537.76 L242.27,537.80 L240.89,537.83 L239.55,537.84 L238.25,537.83 L237.00,537.81 L235.80,537.76 L234.66,537.70 L233.59,537.62 L232.58,537.52 L231.65,537.40 L230.79,537.26 L230.01,537.11 L229.32,536.94 L228.71,536.76 L228.19,536.56 L227.77,536.35 L227.43,536.13 L227.19,535.89 L227.05,535.65 L227.00,535.40 Z" fill="#fff" fill-opacity="0" stroke="#1e1e1e" stroke-width="0.7" stroke-linejoin="round"/>
<circle cx="238.80" cy="535.10" r="2.3" fill="none" stroke="#1e1e1e" stroke-width="0.65"/>
<circle cx="238.80" cy="535.10" r="1.0" fill="none" stroke="#1e1e1e" stroke-width="0.5"/>
<circle cx="249.20" cy="535.10" r="2.3" fill="none" stroke="#1e1e1e" stroke-width="0.65"/>
<circle cx="249.20" cy="535.10" r="1.0" fill="none" stroke="#1e1e1e" stroke-width="0.5"/>
<line x1="236.50" y1="537.70" x2="252.50" y2="537.70" stroke="#2b2b2b" stroke-width="0.45"/>
<line x1="236.50" y1="532.70" x2="252.50" y2="532.70" stroke="#2b2b2b" stroke-width="0.45"/>
<path d="M286.40,572.00 L286.45,571.72 L286.59,571.44 L286.83,571.18 L287.17,570.92 L287.59,570.67 L288.11,570.43 L288.72,570.20 L289.41,569.99 L290.19,569.79 L291.05,569.61 L291.98,569.45 L292.99,569.30 L294.06,569.18 L295.20,569.07 L296.40,568.99 L297.65,568.93 L298.95,568.89 L300.29,568.87 L301.67,568.87 L303.08,568.90 L304.51,568.94 L305.96,569.00 L307.43,569.08 L308.90,569.17 L310.37,569.28 L311.84,569.40 L313.29,569.54 L314.72,569.68 L316.13,569.83 L317.51,569.98 L318.85,570.14 L320.15,570.30 L321.40,570.46 L322.60,570.63 L323.74,570.79 L324.81,570.94 L325.82,571.09 L326.75,571.23 L327.61,571.37 L328.39,571.49 L329.08,571.61 L329.69,571.71 L330.21,571.79 L330.63,571.87 L330.97,571.92 L331.21,571.97 L331.35,571.99 L331.40,572.00 L331.40,572.00 L331.35,572.01 L331.21,572.02 L330.97,572.05 L330.63,572.09 L330.21,572.15 L329.69,572.21 L329.08,572.28 L328.39,572.36 L327.61,572.44 L326.75,572.54 L325.82,572.64 L324.81,572.74 L323.74,572.85 L322.60,572.96 L321.40,573.08 L320.15,573.19 L318.85,573.31 L317.51,573.43 L316.13,573.54 L314.72,573.65 L313.29,573.77 L311.84,573.87 L310.37,573.97 L308.90,574.07 L307.43,574.16 L305.96,574.23 L304.51,574.30 L303.08,574.36 L301.67,574.40 L300.29,574.43 L298.95,574.44 L297.65,574.43 L296.40,574.41 L295.20,574.36 L294.06,574.30 L292.99,574.22 L291.98,574.12 L291.05,574.00 L290.19,573.86 L289.41,573.71 L288.72,573.54 L288.11,573.36 L287.59,573.16 L287.17,572.95 L286.83,572.73 L286.59,572.49 L286.45,572.25 L286.40,572.00 Z" fill="#fff" fill-opacity="0" stroke="#1e1e1e" stroke-width="0.7" stroke-linejoin="round"/>
<circle cx="298.20" cy="571.70" r="2.3" fill="none" stroke="#1e1e1e" stroke-width="0.65"/>
<circle cx="298.20" cy="571.70" r="1.0" fill="none" stroke="#1e1e1e" stroke-width="0.5"/>
<circle cx="308.60" cy="571.70" r="2.3" fill="none" stroke="#1e1e1e" stroke-width="0.65"/>
<circle cx="308.60" cy="571.70" r="1.0" fill="none" stroke="#1e1e1e" stroke-width="0.5"/>
<line x1="295.90" y1="574.30" x2="311.90" y2="574.30" stroke="#2b2b2b" stroke-width="0.45"/>
<line x1="295.90" y1="569.30" x2="311.90" y2="569.30" stroke="#2b2b2b" stroke-width="0.45"/>
<path d="M401.00,551.40 L401.05,551.12 L401.19,550.84 L401.43,550.58 L401.77,550.32 L402.19,550.07 L402.71,549.83 L403.32,549.60 L404.01,549.39 L404.79,549.19 L405.65,549.01 L406.58,548.85 L407.59,548.70 L408.66,548.58 L409.80,548.47 L411.00,548.39 L412.25,548.33 L413.55,548.29 L414.89,548.27 L416.27,548.27 L417.68,548.30 L419.11,548.34 L420.56,548.40 L422.03,548.48 L423.50,548.57 L424.97,548.68 L426.44,548.80 L427.89,548.94 L429.32,549.08 L430.73,549.23 L432.11,549.38 L433.45,549.54 L434.75,549.70 L436.00,549.86 L437.20,550.03 L438.34,550.19 L439.41,550.34 L440.42,550.49 L441.35,550.63 L442.21,550.77 L442.99,550.89 L443.68,551.01 L444.29,551.11 L444.81,551.19 L445.23,551.27 L445.57,551.32 L445.81,551.37 L445.95,551.39 L446.00,551.40 L446.00,551.40 L445.95,551.41 L445.81,551.42 L445.57,551.45 L445.23,551.49 L444.81,551.55 L444.29,551.61 L443.68,551.68 L442.99,551.76 L442.21,551.84 L441.35,551.94 L440.42,552.04 L439.41,552.14 L438.34,552.25 L437.20,552.36 L436.00,552.48 L434.75,552.59 L433.45,552.71 L432.11,552.83 L430.73,552.94 L429.32,553.05 L427.89,553.17 L426.44,553.27 L424.97,553.37 L423.50,553.47 L422.03,553.56 L420.56,553.63 L419.11,553.70 L417.68,553.76 L416.27,553.80 L414.89,553.83 L413.55,553.84 L412.25,553.83 L411.00,553.81 L409.80,553.76 L408.66,553.70 L407.59,553.62 L406.58,553.52 L405.65,553.40 L404.79,553.26 L404.01,553.11 L403.32,552.94 L402.71,552.76 L402.19,552.56 L401.77,552.35 L401.43,552.13 L401.19,551.89 L401.05,551.65 L401.00,551.40 Z" fill="#fff" fill-opacity="0" stroke="#1e1e1e" stroke-width="0.7" stroke-linejoin="round"/>
<circle cx="412.80" cy="551.10" r="2.3" fill="none" stroke="#1e1e1e" stroke-width="0.65"/>
<circle cx="412.80" cy="551.10" r="1.0" fill="none" stroke="#1e1e1e" stroke-width="0.5"/>
<circle cx="423.20" cy="551.10" r="2.3" fill="none" stroke="#1e1e1e" stroke-width="0.65"/>
<circle cx="423.20" cy="551.10" r="1.0" fill="none" stroke="#1e1e1e" stroke-width="0.5"/>
<line x1="410.50" y1="553.70" x2="426.50" y2="553.70" stroke="#2b2b2b" stroke-width="0.45"/>
<line x1="410.50" y1="548.70" x2="426.50" y2="548.70" stroke="#2b2b2b" stroke-width="0.45"/>
<path d="M459.60,556.14 L459.44,555.90 L459.35,555.60 L459.35,555.24 L459.44,554.81 L459.61,554.32 L459.88,553.78 L460.26,553.20 L460.74,552.57 L461.35,551.92 L462.08,551.25 L462.95,550.60 L463.96,549.96 L465.13,549.38 L466.49,548.90 L468.29,548.59 L469.55,548.53 L470.85,548.49 L472.19,548.47 L473.57,548.47 L474.98,548.50 L476.41,548.54 L477.86,548.60 L479.33,548.68 L480.80,548.77 L482.27,548.88 L483.74,549.00 L485.19,549.14 L486.62,549.28 L488.03,549.43 L489.41,549.58 L490.75,549.74 L492.05,549.90 L493.30,550.06 L494.50,550.23 L495.64,550.39 L496.71,550.54 L497.72,550.69 L498.65,550.83 L499.51,550.97 L500.29,551.09 L500.98,551.21 L501.59,551.31 L502.11,551.39 L502.53,551.47 L502.87,551.52 L503.11,551.57 L503.25,551.59 L503.30,551.60 L503.30,551.60 L503.25,551.61 L503.11,551.62 L502.87,551.65 L502.53,551.69 L502.11,551.75 L501.59,551.81 L500.98,551.88 L500.29,551.96 L499.51,552.04 L498.65,552.14 L497.72,552.24 L496.71,552.34 L495.64,552.45 L494.50,552.56 L493.30,552.68 L492.05,552.79 L490.75,552.91 L489.41,553.03 L488.03,553.14 L486.62,553.25 L485.19,553.37 L483.74,553.47 L482.27,553.57 L480.80,553.67 L479.33,553.76 L477.86,553.83 L476.41,553.90 L474.98,553.96 L473.57,554.00 L472.19,554.03 L470.85,554.04 L469.55,554.03 L468.30,554.01 L467.62,554.07 L466.74,554.25 L465.88,554.49 L465.06,554.76 L464.29,555.05 L463.57,555.33 L462.90,555.60 L462.29,555.84 L461.74,556.05 L461.24,556.21 L460.79,556.32 L460.41,556.37 L460.08,556.36 L459.81,556.29 L459.60,556.14 Z" fill="#fff" fill-opacity="0" stroke="#1e1e1e" stroke-width="0.7" stroke-linejoin="round"/>
<circle cx="470.10" cy="551.30" r="2.3" fill="none" stroke="#1e1e1e" stroke-width="0.65"/>
<circle cx="470.10" cy="551.30" r="1.0" fill="none" stroke="#1e1e1e" stroke-width="0.5"/>
<circle cx="480.50" cy="551.30" r="2.3" fill="none" stroke="#1e1e1e" stroke-width="0.65"/>
<circle cx="480.50" cy="551.30" r="1.0" fill="none" stroke="#1e1e1e" stroke-width="0.5"/>
<line x1="467.80" y1="553.90" x2="483.80" y2="553.90" stroke="#2b2b2b" stroke-width="0.45"/>
<line x1="467.80" y1="548.90" x2="483.80" y2="548.90" stroke="#2b2b2b" stroke-width="0.45"/>
<path d="M517.30,554.54 L517.14,554.30 L517.05,554.00 L517.05,553.64 L517.14,553.21 L517.31,552.72 L517.58,552.18 L517.96,551.60 L518.44,550.97 L519.05,550.32 L519.78,549.65 L520.65,549.00 L521.66,548.36 L522.83,547.78 L524.19,547.30 L525.99,546.99 L527.25,546.93 L528.55,546.89 L529.89,546.87 L531.27,546.87 L532.68,546.90 L534.11,546.94 L535.56,547.00 L537.03,547.08 L538.50,547.17 L539.97,547.28 L541.44,547.40 L543.44,547.86 L544.92,548.41 L546.30,549.01 L547.60,549.64 L548.83,550.30 L550.00,550.96 L551.11,551.62 L552.15,552.28 L553.12,552.92 L554.03,553.54 L554.87,554.13 L555.64,554.69 L556.34,555.22 L556.97,555.70 L557.53,556.13 L558.01,556.52 L558.42,556.85 L558.76,557.12 L559.02,557.34 L559.21,557.49 L559.32,557.59 L559.36,557.62 L559.36,557.62 L559.31,557.60 L559.18,557.54 L558.95,557.45 L558.64,557.32 L558.25,557.15 L557.77,556.95 L557.20,556.72 L556.56,556.46 L555.83,556.17 L555.04,555.85 L554.16,555.51 L553.23,555.15 L552.22,554.78 L551.16,554.40 L550.04,554.01 L548.86,553.62 L547.64,553.24 L546.38,552.87 L545.09,552.52 L543.77,552.22 L542.45,551.97 L541.44,551.87 L539.97,551.97 L538.50,552.07 L537.03,552.16 L535.56,552.23 L534.11,552.30 L532.68,552.36 L531.27,552.40 L529.89,552.43 L528.55,552.44 L527.25,552.43 L526.00,552.41 L525.32,552.47 L524.44,552.65 L523.58,552.89 L522.76,553.16 L521.99,553.45 L521.27,553.73 L520.60,554.00 L519.99,554.24 L519.44,554.45 L518.94,554.61 L518.49,554.72 L518.11,554.77 L517.78,554.76 L517.51,554.69 L517.30,554.54 Z" fill="#fff" fill-opacity="0" stroke="#1e1e1e" stroke-width="0.7" stroke-linejoin="round"/>
<circle cx="527.80" cy="549.70" r="2.3" fill="none" stroke="#1e1e1e" stroke-width="0.65"/>
<circle cx="527.80" cy="549.70" r="1.0" fill="none" stroke="#1e1e1e" stroke-width="0.5"/>
<circle cx="538.20" cy="549.70" r="2.3" fill="none" stroke="#1e1e1e" stroke-width="0.65"/>
<circle cx="538.20" cy="549.70" r="1.0" fill="none" stroke="#1e1e1e" stroke-width="0.5"/>
<line x1="525.50" y1="552.30" x2="541.50" y2="552.30" stroke="#2b2b2b" stroke-width="0.45"/>
<line x1="525.50" y1="547.30" x2="541.50" y2="547.30" stroke="#2b2b2b" stroke-width="0.45"/>
<path d="M574.40,550.50 L574.45,550.22 L574.59,549.94 L574.83,549.68 L575.17,549.42 L575.59,549.17 L576.11,548.93 L576.72,548.70 L577.41,548.49 L578.19,548.29 L579.05,548.11 L579.98,547.95 L580.99,547.80 L582.06,547.68 L583.20,547.57 L584.40,547.49 L585.65,547.43 L586.95,547.39 L588.29,547.37 L589.67,547.37 L591.08,547.40 L592.51,547.44 L593.96,547.50 L595.43,547.58 L596.90,547.67 L598.37,547.78 L599.84,547.90 L601.81,548.33 L603.29,548.85 L604.67,549.43 L605.98,550.03 L607.23,550.65 L608.41,551.28 L609.53,551.91 L610.59,552.54 L611.58,553.15 L612.51,553.74 L613.37,554.31 L614.15,554.84 L614.87,555.34 L615.51,555.80 L616.09,556.22 L616.58,556.59 L617.00,556.90 L617.35,557.16 L617.62,557.37 L617.81,557.52 L617.93,557.61 L617.96,557.64 L617.96,557.64 L617.92,557.62 L617.78,557.57 L617.56,557.49 L617.24,557.37 L616.84,557.21 L616.35,557.03 L615.78,556.82 L615.13,556.57 L614.39,556.31 L613.59,556.02 L612.71,555.71 L611.76,555.38 L610.74,555.03 L609.66,554.68 L608.53,554.33 L607.35,553.97 L606.11,553.62 L604.84,553.28 L603.54,552.96 L602.21,552.68 L600.88,552.46 L599.84,552.37 L598.37,552.47 L596.90,552.57 L595.43,552.66 L593.96,552.73 L592.51,552.80 L591.08,552.86 L589.67,552.90 L588.29,552.93 L586.95,552.94 L585.65,552.93 L584.40,552.91 L583.20,552.86 L582.06,552.80 L580.99,552.72 L579.98,552.62 L579.05,552.50 L578.19,552.36 L577.41,552.21 L576.72,552.04 L576.11,551.86 L575.59,551.66 L575.17,551.45 L574.83,551.23 L574.59,550.99 L574.45,550.75 L574.40,550.50 Z" fill="#fff" fill-opacity="0" stroke="#1e1e1e" stroke-width="0.7" stroke-linejoin="round"/>
<circle cx="586.20" cy="550.20" r="2.3" fill="none" stroke="#1e1e1e" stroke-width="0.65"/>
<circle cx="586.20" cy="550.20" r="1.0" fill="none" stroke="#1e1e1e" stroke-width="0.5"/>
<circle cx="596.60" cy="550.20" r="2.3" fill="none" stroke="#1e1e1e" stroke-width="0.65"/>
<circle cx="596.60" cy="550.20" r="1.0" fill="none" stroke="#1e1e1e" stroke-width="0.5"/>
<line x1="583.90" y1="552.80" x2="599.90" y2="552.80" stroke="#2b2b2b" stroke-width="0.45"/>
<line x1="583.90" y1="547.80" x2="599.90" y2="547.80" stroke="#2b2b2b" stroke-width="0.45"/>
<path d="M631.70,551.40 L631.75,551.12 L631.89,550.84 L632.13,550.58 L632.47,550.32 L632.89,550.07 L633.41,549.83 L634.02,549.60 L634.71,549.39 L635.49,549.19 L636.35,549.01 L637.28,548.85 L638.29,548.70 L639.36,548.58 L640.50,548.47 L641.70,548.39 L642.95,548.33 L644.25,548.29 L645.59,548.27 L646.97,548.27 L648.38,548.30 L649.81,548.34 L651.26,548.40 L652.73,548.48 L654.20,548.57 L655.67,548.68 L657.14,548.80 L658.59,548.94 L660.02,549.08 L661.43,549.23 L662.81,549.38 L664.15,549.54 L665.45,549.70 L666.70,549.86 L667.90,550.03 L669.04,550.19 L670.11,550.34 L671.12,550.49 L672.05,550.63 L672.91,550.77 L673.69,550.89 L674.38,551.01 L674.99,551.11 L675.51,551.19 L675.93,551.27 L676.27,551.32 L676.51,551.37 L676.65,551.39 L676.70,551.40 L676.70,551.40 L676.65,551.41 L676.51,551.42 L676.27,551.45 L675.93,551.49 L675.51,551.55 L674.99,551.61 L674.38,551.68 L673.69,551.76 L672.91,551.84 L672.05,551.94 L671.12,552.04 L670.11,552.14 L669.04,552.25 L667.90,552.36 L666.70,552.48 L665.45,552.59 L664.15,552.71 L662.81,552.83 L661.43,552.94 L660.02,553.05 L658.59,553.17 L657.14,553.27 L655.67,553.37 L654.20,553.47 L652.73,553.56 L651.26,553.63 L649.81,553.70 L648.38,553.76 L646.97,553.80 L645.59,553.83 L644.25,553.84 L642.95,553.83 L641.70,553.81 L640.50,553.76 L639.36,553.70 L638.29,553.62 L637.28,553.52 L636.35,553.40 L635.49,553.26 L634.71,553.11 L634.02,552.94 L633.41,552.76 L632.89,552.56 L632.47,552.35 L632.13,552.13 L631.89,551.89 L631.75,551.65 L631.70,551.40 Z" fill="#fff" fill-opacity="0" stroke="#1e1e1e" stroke-width="0.7" stroke-linejoin="round"/>
<circle cx="643.50" cy="551.10" r="2.3" fill="none" stroke="#1e1e1e" stroke-width="0.65"/>
<circle cx="643.50" cy="551.10" r="1.0" fill="none" stroke="#1e1e1e" stroke-width="0.5"/>
<circle cx="653.90" cy="551.10" r="2.3" fill="none" stroke="#1e1e1e" stroke-width="0.65"/>
<circle cx="653.90" cy="551.10" r="1.0" fill="none" stroke="#1e1e1e" stroke-width="0.5"/>
<line x1="641.20" y1="553.70" x2="657.20" y2="553.70" stroke="#2b2b2b" stroke-width="0.45"/>
<line x1="641.20" y1="548.70" x2="657.20" y2="548.70" stroke="#2b2b2b" stroke-width="0.45"/>
</svg></body></html>
